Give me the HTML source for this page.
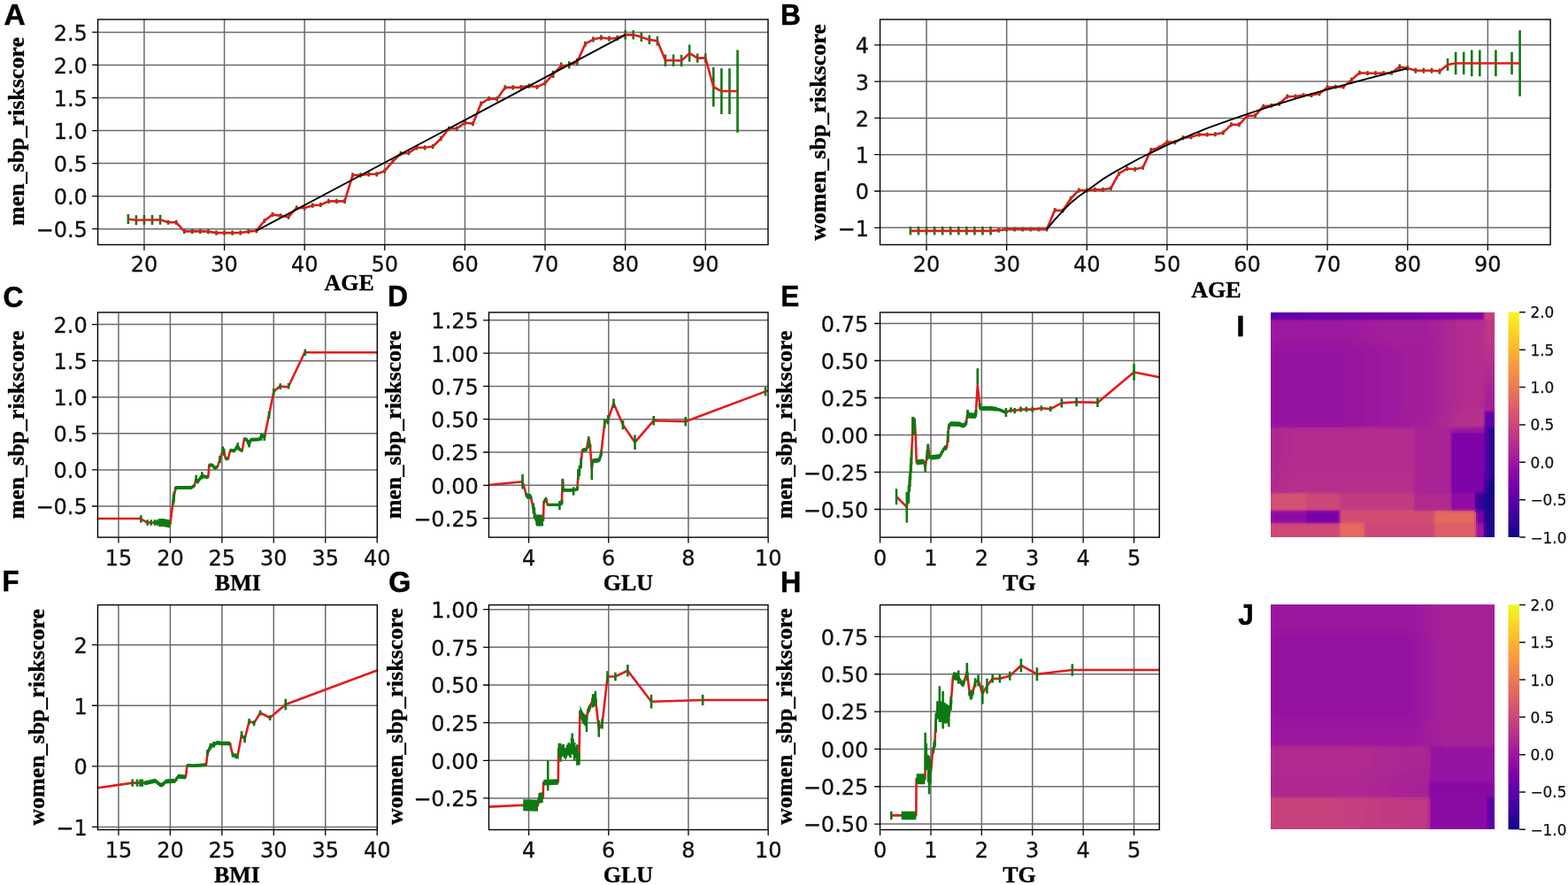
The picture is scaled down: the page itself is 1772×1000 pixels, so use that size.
<!DOCTYPE html>
<html lang="en">
<head>
<meta charset="utf-8">
<title>Risk score dependence plots</title>
<style>
html,body{margin:0;padding:0;background:#fff}
body{width:1772px;height:1000px;overflow:hidden}
svg{display:block}
.t text{font-family:"DejaVu Sans","Liberation Sans",sans-serif;font-size:24.0px;fill:#111;stroke:#111;stroke-width:0.3px}
.c text{font-family:"DejaVu Sans","Liberation Sans",sans-serif;font-size:16.9px;fill:#111;stroke:#111;stroke-width:0.25px}
.ax{font-family:"Liberation Serif","DejaVu Serif",serif;font-weight:bold;font-size:25.2px;fill:#000;stroke:#000;stroke-width:0.3px}
.pl{font-family:"Liberation Sans","DejaVu Sans",sans-serif;font-weight:bold;font-size:33.5px;fill:#000;stroke:#000;stroke-width:0.5px}
</style>
</head>
<body>
<svg width="1772" height="1000" viewBox="0 0 1772 1000">
<defs><linearGradient id="plasma" x1="0" y1="1" x2="0" y2="0"><stop offset="0" stop-color="#0d0887"/><stop offset="0.04167" stop-color="#260591"/><stop offset="0.08333" stop-color="#3a049a"/><stop offset="0.125" stop-color="#4c02a1"/><stop offset="0.1667" stop-color="#5c01a6"/><stop offset="0.2083" stop-color="#6e00a8"/><stop offset="0.25" stop-color="#7e03a8"/><stop offset="0.2917" stop-color="#8d0ba5"/><stop offset="0.3333" stop-color="#9c179e"/><stop offset="0.375" stop-color="#aa2395"/><stop offset="0.4167" stop-color="#b52f8c"/><stop offset="0.4583" stop-color="#c13b82"/><stop offset="0.5" stop-color="#cc4778"/><stop offset="0.5417" stop-color="#d5536f"/><stop offset="0.5833" stop-color="#de5f65"/><stop offset="0.625" stop-color="#e66c5c"/><stop offset="0.6667" stop-color="#ed7953"/><stop offset="0.7083" stop-color="#f3874a"/><stop offset="0.75" stop-color="#f89540"/><stop offset="0.7917" stop-color="#fca338"/><stop offset="0.8333" stop-color="#fdb42f"/><stop offset="0.875" stop-color="#fdc527"/><stop offset="0.9167" stop-color="#fbd524"/><stop offset="0.9583" stop-color="#f6e826"/><stop offset="1" stop-color="#f0f921"/></linearGradient></defs>
<rect width="1772" height="1000" fill="#fff"/>
<g>
<path d="M162.95 22V276.5M253.57 22V276.5M344.18 22V276.5M434.8 22V276.5M525.41 22V276.5M616.03 22V276.5M706.65 22V276.5M797.26 22V276.5M110.6 258.68H868M110.6 221.63H868M110.6 184.58H868M110.6 147.53H868M110.6 110.48H868M110.6 73.43H868M110.6 36.38H868" stroke="#6c6c6c" stroke-width="1.5" fill="none"/>
<path d="M162.95 276.5v6.4M253.57 276.5v6.4M344.18 276.5v6.4M434.8 276.5v6.4M525.41 276.5v6.4M616.03 276.5v6.4M706.65 276.5v6.4M797.26 276.5v6.4M110.6 258.68h-6.4M110.6 221.63h-6.4M110.6 184.58h-6.4M110.6 147.53h-6.4M110.6 110.48h-6.4M110.6 73.43h-6.4M110.6 36.38h-6.4" stroke="#000" stroke-width="1.3" fill="none"/>
<clipPath id="cA"><rect x="110.6" y="22" width="757.4" height="254.5"/></clipPath>
<g clip-path="url(#cA)" fill="none" stroke-linejoin="round">
<path d="M144.83 242.01V253.12M153.89 243.19V254.31M162.95 242.9V254.01M172.01 242.9V254.01M181.07 242.75V253.86M190.13 248.68V253.86M199.2 248.68V253.86M208.26 258.83V264.02M217.32 258.83V264.02M226.38 258.83V264.02M235.44 259.05V264.24M244.5 260.53V265.72M253.57 260.53V265.72M262.63 260.53V265.72M271.69 260.38V265.57M280.75 259.05V264.24M289.81 258.09V263.27M298.87 246.9V252.09M307.94 239.78V244.97M317 241.27V246.45M326.06 242.45V247.64M335.12 232.37V237.56M344.18 232.37V237.56M353.24 229.56V234.75M362.31 228.89V234.08M371.37 224.82V230M380.43 224.82V230M389.49 224.82V230M398.55 195.32V200.51M407.61 195.32V200.51M416.67 194.21V199.4M425.74 194.21V199.4M434.8 190.51V195.69M443.86 179.76V184.95M452.92 171.09V176.28M461.98 170.13V175.32M471.04 164.2V169.39M480.11 164.2V169.39M489.17 162.94V168.13M498.23 154.12V159.31M507.29 142.71V147.9M516.35 142.71V147.9M525.41 136.04V141.23M534.48 137.16V142.34M543.54 114.56V119.74M552.6 108.92V114.11M561.66 109.37V114.56M570.72 96.33V101.51M579.78 96.33V101.51M588.85 96.03V101.22M597.91 94.55V99.74M606.97 95.66V100.85M616.03 91.21V96.4M625.09 79.73V87.88M634.15 70.39V78.54M643.21 69.35V77.51M652.28 66.02V74.17M661.34 46.75V52.68M670.4 41.57V47.5M679.46 39.57V45.49M688.52 40.83V46.75M697.58 40.09V46.01M706.65 34.16V44.53M715.71 34.16V44.53M724.77 36.68V47.05M733.83 39.71V50.09M742.89 41.05V51.42M751.95 61.57V74.91M761.02 61.57V74.91M770.08 61.94V75.28M779.14 50.46V69.72M788.2 60.46V70.84M797.26 60.46V70.84M806.32 76.02V120.48M815.39 77.13V129M824.45 77.13V129M833.51 56.39V149.75" stroke="#0b7a12" stroke-width="2.6"/>
<polyline points="144.83,247.56 153.89,248.75 162.95,248.45 172.01,248.45 181.07,248.31 190.13,251.27 199.2,251.27 208.26,261.42 217.32,261.42 226.38,261.42 235.44,261.64 244.5,263.13 253.57,263.13 262.63,263.13 271.69,262.98 280.75,261.64 289.81,260.68 298.87,249.49 307.94,242.38 317,243.86 326.06,245.05 335.12,234.97 344.18,234.97 353.24,232.15 362.31,231.49 371.37,227.41 380.43,227.41 389.49,227.41 398.55,197.92 407.61,197.92 416.67,196.81 425.74,196.81 434.8,193.1 443.86,182.36 452.92,173.69 461.98,172.72 471.04,166.8 480.11,166.8 489.17,165.54 498.23,156.72 507.29,145.31 516.35,145.31 525.41,138.64 534.48,139.75 543.54,117.15 552.6,111.52 561.66,111.96 570.72,98.92 579.78,98.92 588.85,98.62 597.91,97.14 606.97,98.25 616.03,93.81 625.09,83.8 634.15,74.47 643.21,73.43 652.28,70.1 661.34,49.72 670.4,44.53 679.46,42.53 688.52,43.79 697.58,43.05 706.65,39.34 715.71,39.34 724.77,41.86 733.83,44.9 742.89,46.24 751.95,68.24 761.02,68.24 770.08,68.61 779.14,60.09 788.2,65.65 797.26,65.65 806.32,98.25 815.39,103.07 824.45,103.07 833.51,103.07" stroke="#e31a1c" stroke-width="2.6"/>
<polyline points="289.81,260.68 706.65,39.34" stroke="#000" stroke-width="1.9"/>
</g>
<rect x="110.6" y="22" width="757.4" height="254.5" fill="none" stroke="#000" stroke-width="1.4"/>
<g class="t">
<text x="162.95" y="306.9" text-anchor="middle">20</text>
<text x="253.57" y="306.9" text-anchor="middle">30</text>
<text x="344.18" y="306.9" text-anchor="middle">40</text>
<text x="434.8" y="306.9" text-anchor="middle">50</text>
<text x="525.41" y="306.9" text-anchor="middle">60</text>
<text x="616.03" y="306.9" text-anchor="middle">70</text>
<text x="706.65" y="306.9" text-anchor="middle">80</text>
<text x="797.26" y="306.9" text-anchor="middle">90</text>
<text x="98.9" y="268.08" text-anchor="end">−0.5</text>
<text x="98.9" y="231.03" text-anchor="end">0.0</text>
<text x="98.9" y="193.98" text-anchor="end">0.5</text>
<text x="98.9" y="156.93" text-anchor="end">1.0</text>
<text x="98.9" y="119.88" text-anchor="end">1.5</text>
<text x="98.9" y="82.83" text-anchor="end">2.0</text>
<text x="98.9" y="45.78" text-anchor="end">2.5</text>
</g>
</g>
<g>
<path d="M1047.04 22V276.5M1137.66 22V276.5M1228.27 22V276.5M1318.89 22V276.5M1409.5 22V276.5M1500.12 22V276.5M1590.74 22V276.5M1681.35 22V276.5M994.55 257.28H1752.1M994.55 215.99H1752.1M994.55 174.7H1752.1M994.55 133.41H1752.1M994.55 92.12H1752.1M994.55 50.83H1752.1" stroke="#6c6c6c" stroke-width="1.5" fill="none"/>
<path d="M1047.04 276.5v6.4M1137.66 276.5v6.4M1228.27 276.5v6.4M1318.89 276.5v6.4M1409.5 276.5v6.4M1500.12 276.5v6.4M1590.74 276.5v6.4M1681.35 276.5v6.4M994.55 257.28h-6.4M994.55 215.99h-6.4M994.55 174.7h-6.4M994.55 133.41h-6.4M994.55 92.12h-6.4M994.55 50.83h-6.4" stroke="#000" stroke-width="1.3" fill="none"/>
<clipPath id="cB"><rect x="994.55" y="22" width="757.55" height="254.5"/></clipPath>
<g clip-path="url(#cB)" fill="none" stroke-linejoin="round">
<path d="M1028.92 256.08V265.58M1037.98 256.08V265.58M1047.04 256.08V265.58M1056.1 256.08V265.58M1065.16 256.08V265.58M1074.22 256.08V265.58M1083.29 256.08V265.58M1092.35 256.08V265.58M1101.41 256.08V265.58M1110.47 256.08V265.58M1119.53 256.08V265.58M1128.59 257.69V262.65M1137.66 256.66V261.62M1146.72 256.66V261.62M1155.78 256.66V261.62M1164.84 256.66V261.62M1173.9 256.66V261.62M1182.96 256.66V261.62M1192.03 234.98V239.94M1201.09 235.6V240.56M1210.15 221.77V226.73M1219.21 212.48V217.44M1228.27 212.48V217.44M1237.33 211.86V216.82M1246.4 211.86V216.82M1255.46 210.21V215.16M1264.52 193.69V198.65M1273.58 188.04V192.99M1282.64 188.74V193.69M1291.7 186.67V191.63M1300.76 166.98V171.93M1309.83 164.38V169.33M1318.89 158.18V163.14M1327.95 158.18V163.14M1337.01 153.35V158.31M1346.07 152.4V157.36M1355.13 149.64V154.59M1364.2 149.64V154.59M1373.26 149.31V154.26M1382.32 147.45V152.4M1391.38 138.36V143.32M1400.44 138.36V143.32M1409.5 128.46V133.41M1418.57 128.04V133M1427.63 117.72V122.67M1436.69 116.89V121.85M1445.75 114.83V119.78M1454.81 106.57V111.53M1463.87 106.57V111.53M1472.94 105.13V110.08M1482 105.13V110.08M1491.06 103.27V108.22M1500.12 96.25V101.2M1509.18 95.63V100.58M1518.24 95.63V100.58M1527.3 87.78V92.74M1536.37 79.73V84.69M1545.43 80.31V85.27M1554.49 80.31V85.27M1563.55 80.31V85.27M1572.61 79.73V84.69M1581.67 72.51V78.7M1590.74 73.91V80.1M1599.8 76.64V82.83M1608.86 76.64V82.83M1617.92 76.64V82.83M1626.98 77.46V83.66M1636.04 65.9V79.94M1645.11 58.68V84.27M1654.17 58.68V84.27M1663.23 56.61V86.34M1672.29 56.61V86.34M1690.41 56.61V86.34M1708.54 58.68V84.27M1717.6 34.31V108.64" stroke="#0b7a12" stroke-width="2.6"/>
<polyline points="1028.92,260.83 1037.98,260.83 1047.04,260.83 1056.1,260.83 1065.16,260.83 1074.22,260.83 1083.29,260.83 1092.35,260.83 1101.41,260.83 1110.47,260.83 1119.53,260.83 1128.59,260.17 1137.66,259.14 1146.72,259.14 1155.78,259.14 1164.84,259.14 1173.9,259.14 1182.96,259.14 1192.03,237.46 1201.09,238.08 1210.15,224.25 1219.21,214.96 1228.27,214.96 1237.33,214.34 1246.4,214.34 1255.46,212.69 1264.52,196.17 1273.58,190.51 1282.64,191.22 1291.7,189.15 1300.76,169.46 1309.83,166.85 1318.89,160.66 1327.95,160.66 1337.01,155.83 1346.07,154.88 1355.13,152.11 1364.2,152.11 1373.26,151.78 1382.32,149.93 1391.38,140.84 1400.44,140.84 1409.5,130.93 1418.57,130.52 1427.63,120.2 1436.69,119.37 1445.75,117.31 1454.81,109.05 1463.87,109.05 1472.94,107.6 1482,107.6 1491.06,105.75 1500.12,98.73 1509.18,98.11 1518.24,98.11 1527.3,90.26 1536.37,82.21 1545.43,82.79 1554.49,82.79 1563.55,82.79 1572.61,82.21 1581.67,75.6 1590.74,77.01 1599.8,79.73 1608.86,79.73 1617.92,79.73 1626.98,80.56 1636.04,72.92 1645.11,71.48 1654.17,71.48 1663.23,71.48 1672.29,71.48 1690.41,71.48 1708.54,71.48 1717.6,71.48" stroke="#e31a1c" stroke-width="2.6"/>
<polyline points="1182.96,259.14 1192.03,248.2 1201.09,238.29 1210.15,229.2 1219.21,221.77 1228.27,215.58 1237.33,208.97 1246.4,202.36 1259.99,194.11 1273.58,186.67 1287.17,179.24 1300.76,172.64 1318.89,163.96 1332.48,158.18 1346.07,152.4 1364.2,144.97 1391.38,135.06 1409.5,128.87 1436.69,119.78 1454.81,114.42 1482,106.16 1500.12,101.2 1527.3,93.77 1545.43,88.82 1572.61,81.8 1590.74,77.26" stroke="#000" stroke-width="1.9"/>
</g>
<rect x="994.55" y="22" width="757.55" height="254.5" fill="none" stroke="#000" stroke-width="1.4"/>
<g class="t">
<text x="1047.04" y="306.9" text-anchor="middle">20</text>
<text x="1137.66" y="306.9" text-anchor="middle">30</text>
<text x="1228.27" y="306.9" text-anchor="middle">40</text>
<text x="1318.89" y="306.9" text-anchor="middle">50</text>
<text x="1409.5" y="306.9" text-anchor="middle">60</text>
<text x="1500.12" y="306.9" text-anchor="middle">70</text>
<text x="1590.74" y="306.9" text-anchor="middle">80</text>
<text x="1681.35" y="306.9" text-anchor="middle">90</text>
<text x="982" y="266.68" text-anchor="end">−1</text>
<text x="982" y="225.39" text-anchor="end">0</text>
<text x="982" y="184.1" text-anchor="end">1</text>
<text x="982" y="142.81" text-anchor="end">2</text>
<text x="982" y="101.52" text-anchor="end">3</text>
<text x="982" y="60.23" text-anchor="end">4</text>
</g>
</g>
<g>
<path d="M133.95 353V607.15M192.4 353V607.15M250.85 353V607.15M309.3 353V607.15M367.75 353V607.15M110.45 571.98H426.3M110.45 530.9H426.3M110.45 489.82H426.3M110.45 448.75H426.3M110.45 407.67H426.3M110.45 366.6H426.3" stroke="#6c6c6c" stroke-width="1.5" fill="none"/>
<path d="M133.95 607.15v6.4M192.4 607.15v6.4M250.85 607.15v6.4M309.3 607.15v6.4M367.75 607.15v6.4M426.2 607.15v6.4M110.45 571.98h-6.4M110.45 530.9h-6.4M110.45 489.82h-6.4M110.45 448.75h-6.4M110.45 407.67h-6.4M110.45 366.6h-6.4" stroke="#000" stroke-width="1.3" fill="none"/>
<clipPath id="cC"><rect x="110.45" y="353" width="315.85" height="254.15"/></clipPath>
<g clip-path="url(#cC)" fill="none" stroke-linejoin="round">
<polyline points="110.57,586.02 158.73,586.02 166.68,590.54 184.22,590.54 192.4,591.94 195.79,565.4 198.6,551.03 216.25,551.03 219.87,548.56 221.62,540.76 223.26,544.87 228.29,537.47 231.68,538.7 235.3,539.12 236.35,525.56 240.1,525.56 242.67,528.93 245.71,527.61 248.51,519.15 251.79,508.72 253.19,510.77 254.94,518.33 257.86,518.33 260.2,508.72 264.88,509.54 268.38,503.79 270.37,507.41 273.65,509.38 275.98,495.9 278.91,496.81 281.24,502.15 283.58,496.81 292.93,496.4 296.09,492.54 298.78,493.93 303.45,471.75 309.3,442.75 312.81,439.38 316.31,436.59 325.67,437.25 344.37,398.23 426.2,398.23" stroke="#e31a1c" stroke-width="2.6"/>
<path d="M159.32 582.25V590.46M166.68 587.25V593.83M170.77 587.25V593.83M174.87 587.25V593.83M177.79 587.25V593.83M195.91 559.05V570.55M196.61 555.46V566.96M221.62 536.65V544.87M228.29 533.36V541.58M248.51 515.05V523.26M251.79 504.61V512.83M253.19 506.67V514.88M268.74 500.32V508.54M281.59 497.24V505.45M295.27 489.43V497.64M298.78 489.82V498.04M304.04 464.74V472.96M309.3 438.65V446.86M316.78 433.34V439.91M326.13 432.99V439.56M344.84 394.53V401.92" stroke="#0b7a12" stroke-width="2.6"/>
<path d="M179.19 590.54L184.22 590.54L192.4 591.94M198.13 553.42L198.6 551.03L216.25 551.03L219.87 548.56M221.62 540.76L223.26 544.87L228.29 537.47L231.68 538.7L235.3 539.12M236.35 525.56L240.1 525.56L242.67 528.93L245.71 527.61M251.79 508.72L253.19 510.77M254.94 518.33L257.86 518.33M260.2 508.72L264.88 509.54L268.38 503.79L270.37 507.41L273.65 509.38M275.98 495.9L278.91 496.81L281.24 502.15L283.58 496.81L292.93 496.4L296.09 492.54L298.78 493.93L299.36 491.16" stroke="#0b7a12" stroke-width="3.2" stroke-linecap="butt"/>
<path d="M179.19 586.04L184.22 586.04L192.4 587.44L192.4 596.44L184.22 595.04L179.19 595.04ZM198.13 551.42L198.6 549.03L216.25 549.03L219.87 546.56L219.87 550.56L216.25 553.03L198.6 553.03L198.13 555.42ZM221.62 538.76L223.26 542.87L228.29 535.47L231.68 536.7L235.3 537.12L235.3 541.12L231.68 540.7L228.29 539.47L223.26 546.87L221.62 542.76ZM236.35 523.56L240.1 523.56L242.67 526.93L245.71 525.61L245.71 529.61L242.67 530.93L240.1 527.56L236.35 527.56ZM251.79 506.72L253.19 508.77L253.19 512.77L251.79 510.72ZM254.94 516.33L257.86 516.33L257.86 520.33L254.94 520.33ZM260.2 506.72L264.88 507.54L268.38 501.79L270.37 505.41L273.65 507.38L273.65 511.38L270.37 509.41L268.38 505.79L264.88 511.54L260.2 510.72ZM275.98 493.9L278.91 494.81L281.24 500.15L283.58 494.81L292.93 494.4L296.09 490.54L298.78 491.93L299.36 489.16L299.36 493.16L298.78 495.93L296.09 494.54L292.93 498.4L283.58 498.81L281.24 504.15L278.91 498.81L275.98 497.9Z" fill="#0b7a12" stroke="none"/>
</g>
<rect x="110.45" y="353" width="315.85" height="254.15" fill="none" stroke="#000" stroke-width="1.4"/>
<g class="t">
<text x="133.95" y="638.7" text-anchor="middle">15</text>
<text x="192.4" y="638.7" text-anchor="middle">20</text>
<text x="250.85" y="638.7" text-anchor="middle">25</text>
<text x="309.3" y="638.7" text-anchor="middle">30</text>
<text x="367.75" y="638.7" text-anchor="middle">35</text>
<text x="426.2" y="638.7" text-anchor="middle">40</text>
<text x="98.7" y="581.38" text-anchor="end">−0.5</text>
<text x="98.7" y="540.3" text-anchor="end">0.0</text>
<text x="98.7" y="499.22" text-anchor="end">0.5</text>
<text x="98.7" y="458.15" text-anchor="end">1.0</text>
<text x="98.7" y="417.07" text-anchor="end">1.5</text>
<text x="98.7" y="376" text-anchor="end">2.0</text>
</g>
</g>
<g>
<path d="M597.55 353V607.15M687.75 353V607.15M777.95 353V607.15M552.45 585.6H868M552.45 548.3H868M552.45 511H868M552.45 473.7H868M552.45 436.4H868M552.45 399.1H868M552.45 361.8H868" stroke="#6c6c6c" stroke-width="1.5" fill="none"/>
<path d="M597.55 607.15v6.4M687.75 607.15v6.4M777.95 607.15v6.4M868.15 607.15v6.4M552.45 585.6h-6.4M552.45 548.3h-6.4M552.45 511h-6.4M552.45 473.7h-6.4M552.45 436.4h-6.4M552.45 399.1h-6.4M552.45 361.8h-6.4" stroke="#000" stroke-width="1.3" fill="none"/>
<clipPath id="cD"><rect x="552.45" y="353" width="315.55" height="254.15"/></clipPath>
<g clip-path="url(#cD)" fill="none" stroke-linejoin="round">
<polyline points="552.45,548 590.51,544.27 594.84,559.19 595.61,560.83 599.62,560.83 602.83,574.41 605.22,585.6 606.12,587.99 614.01,587.99 614.51,567.99 617.21,563.22 618.75,570.38 632.41,570.38 634.8,569.19 635.88,542.33 636.88,553.89 648.42,553.89 652.39,552.78 653.47,535.92 654.83,531.89 656.63,523.23 657.98,508.76 662.81,508.02 665.2,495.18 666.78,502.35 668.81,529.65 669.98,520.7 677.2,519.95 679.18,513.54 683.24,478.33 687.12,474.3 693.52,455.8 703.99,480.12 717.52,499.81 738.71,475.19 774.79,476.24 864.99,442.37 868.15,441.47" stroke="#e31a1c" stroke-width="2.6"/>
<path d="M590.51 536.07V552.48M602.83 568.44V580.38M603.86 573.3V585.23M635.88 540.84V555.76M665.2 493.1V506.52M668.81 522.94V542.33M648.06 550.16V559.86M632.41 565.91V576.35M653.47 529.95V541.88M654.83 525.92V537.86M656.63 517.27V529.2M683.24 473.1V483.55M687.12 469.07V479.52M693.52 450.57V461.02M703.99 474.89V485.34M717.52 491.6V508.02M738.71 469.97V480.41M774.79 471.01V481.46M864.99 437.15V447.59" stroke="#0b7a12" stroke-width="2.6"/>
<path d="M594.39 557.64L594.84 559.19L595.61 560.83L599.62 560.83L600.26 563.51M602.06 571.16L602.83 574.41M605.22 585.6L606.12 587.99M605.22 585.6L606.12 587.99L614.01 587.99M614.51 567.99L614.69 567.68M614.51 567.99L617.21 563.22M618.75 570.38L632.41 570.38L634.8 569.19L634.98 564.71M636.88 553.89L648.42 553.89L652.39 552.78L652.57 549.97M653.47 535.92L654.83 531.89M657.98 508.76L662.81 508.02L662.94 507.29M666.78 502.35L667 505.38M669.71 522.76L669.98 520.7L677.2 519.95L677.38 519.37M677.38 519.37L679.18 513.54L679.63 509.62" stroke="#0b7a12" stroke-width="3.2" stroke-linecap="butt"/>
<path d="M594.39 554.64L594.84 556.19L595.61 557.83L599.62 557.83L600.26 560.51L600.26 566.51L599.62 563.83L595.61 563.83L594.84 562.19L594.39 560.64ZM605.22 579.1L606.12 581.49L614.01 581.49L614.01 594.49L606.12 594.49L605.22 592.1ZM614.51 561.49L614.69 561.18L614.69 574.18L614.51 574.49ZM614.51 565.49L617.21 560.72L617.21 565.72L614.51 570.49ZM636.88 552.19L648.42 552.19L652.39 551.08L652.57 548.27L652.57 551.67L652.39 554.48L648.42 555.6L636.88 555.6ZM657.98 506.46L662.81 505.72L662.94 504.99L662.94 509.59L662.81 510.32L657.98 511.06ZM669.71 520.26L669.98 518.2L677.2 517.45L677.38 516.87L677.38 521.87L677.2 522.45L669.98 523.2L669.71 525.26Z" fill="#0b7a12" stroke="none"/>
</g>
<rect x="552.45" y="353" width="315.55" height="254.15" fill="none" stroke="#000" stroke-width="1.4"/>
<g class="t">
<text x="597.55" y="638.7" text-anchor="middle">4</text>
<text x="687.75" y="638.7" text-anchor="middle">6</text>
<text x="777.95" y="638.7" text-anchor="middle">8</text>
<text x="868.15" y="638.7" text-anchor="middle">10</text>
<text x="540.8" y="595" text-anchor="end">−0.25</text>
<text x="540.8" y="557.7" text-anchor="end">0.00</text>
<text x="540.8" y="520.4" text-anchor="end">0.25</text>
<text x="540.8" y="483.1" text-anchor="end">0.50</text>
<text x="540.8" y="445.8" text-anchor="end">0.75</text>
<text x="540.8" y="408.5" text-anchor="end">1.00</text>
<text x="540.8" y="371.2" text-anchor="end">1.25</text>
</g>
</g>
<g>
<path d="M1051.95 353V607.15M1109.35 353V607.15M1166.75 353V607.15M1224.15 353V607.15M1281.55 353V607.15M994.55 575.5H1310.2M994.55 533.5H1310.2M994.55 491.5H1310.2M994.55 449.5H1310.2M994.55 407.5H1310.2M994.55 365.5H1310.2" stroke="#6c6c6c" stroke-width="1.5" fill="none"/>
<path d="M994.55 607.15v6.4M1051.95 607.15v6.4M1109.35 607.15v6.4M1166.75 607.15v6.4M1224.15 607.15v6.4M1281.55 607.15v6.4M994.55 575.5h-6.4M994.55 533.5h-6.4M994.55 491.5h-6.4M994.55 449.5h-6.4M994.55 407.5h-6.4M994.55 365.5h-6.4" stroke="#000" stroke-width="1.3" fill="none"/>
<clipPath id="cE"><rect x="994.55" y="353" width="315.65" height="254.15"/></clipPath>
<g clip-path="url(#cE)" fill="none" stroke-linejoin="round">
<polyline points="1013.03,561.22 1024.8,572.81 1026.92,556.01 1027.84,546.94 1029.45,526.78 1031.11,493.01 1031.57,472.01 1033.58,474.03 1034.73,491.5 1035.76,522.41 1044.14,521.4 1045.64,528.46 1047.36,516.03 1048.79,503.26 1050.46,516.03 1052.52,517.04 1062.05,515.69 1065.15,509.81 1067.73,505.95 1070.03,505.95 1071.47,488.81 1072.61,480.41 1074.68,478.9 1084.09,479.32 1088.34,481 1091.56,479.32 1093.57,465.63 1095.69,469.49 1102.63,469.83 1104.76,435.22 1107.63,461.43 1120.08,461.43 1128.29,462.6 1136.9,465.96 1142.41,463.28 1146.66,464.12 1153.55,462.44 1166.75,462.6 1176.85,461.26 1187.18,462.1 1199.81,455.38 1216.57,454.2 1240.39,454.88 1281.55,420.44 1310.25,426.32" stroke="#e31a1c" stroke-width="2.6"/>
<path d="M1013.03 552.15V570.29M1024.8 556.01V590.62M1026.92 548.62V568.78M1027.84 538.54V555.34M1028.99 525.1V541.9M1030.14 508.3V525.1M1031.57 471.34V491.5M1032.43 472.18V491.5M1033.58 473.86V491.5M1045.64 521.74V533.5M1048.79 501.58V518.38M1047.93 508.3V520.06M1104.76 416.24V434.38M1093.57 462.94V473.02M1071.47 486.46V499.9M1136.9 460.92V471M1142.41 460.25V466.3M1146.66 461.09V467.14M1153.55 459.41V465.46M1159.86 459.49V465.54M1166.75 459.58V465.63M1176.85 458.24V464.28M1187.18 459.08V465.12M1199.81 450.34V460.42M1216.57 449.16V459.24M1240.39 449.84V459.92M1281.55 411.2V429.68M1031.97 471.34V491.5M1032.89 472.18V491.5M1028.42 533.5V550.3M1029.56 516.7V533.5" stroke="#0b7a12" stroke-width="2.6"/>
<path d="M1035.76 522.41L1044.14 521.4M1050.46 516.03L1051.95 516.76M1051.95 516.76L1052.52 517.04L1062.05 515.69L1062.86 514.17M1062.86 514.17L1065.15 509.81L1067.73 505.95L1070.03 505.95M1072.04 484.61L1072.61 480.41L1074.68 478.9L1084.09 479.32L1088.34 481L1091.56 479.32L1092.13 475.41M1093.57 465.63L1095.69 469.49L1102.63 469.83L1103.04 463.28M1107.05 456.19L1107.63 461.43L1120.08 461.43L1126.57 462.36M1126.57 462.36L1128.29 462.6L1136.9 465.96L1138.05 465.4" stroke="#0b7a12" stroke-width="3.2" stroke-linecap="butt"/>
<path d="M1035.76 519.41L1044.14 518.4L1044.14 524.4L1035.76 525.41ZM1050.46 513.78L1051.95 514.51L1051.95 519.01L1050.46 518.28ZM1051.95 514.01L1052.52 514.29L1062.05 512.94L1062.86 511.42L1062.86 516.92L1062.05 518.44L1052.52 519.79L1051.95 519.51ZM1062.86 511.27L1065.15 506.91L1067.73 503.05L1070.03 503.05L1070.03 508.85L1067.73 508.85L1065.15 512.71L1062.86 517.07ZM1072.04 481.86L1072.61 477.66L1074.68 476.15L1084.09 476.57L1088.34 478.25L1091.56 476.57L1092.13 472.66L1092.13 478.16L1091.56 482.07L1088.34 483.75L1084.09 482.07L1074.68 481.65L1072.61 483.16L1072.04 487.36ZM1093.57 462.38L1095.69 466.24L1102.63 466.58L1103.04 460.03L1103.04 466.53L1102.63 473.08L1095.69 472.74L1093.57 468.88ZM1107.05 453.69L1107.63 458.93L1120.08 458.93L1126.57 459.86L1126.57 464.86L1120.08 463.93L1107.63 463.93L1107.05 458.69ZM1126.57 460.56L1128.29 460.8L1136.9 464.16L1138.05 463.6L1138.05 467.2L1136.9 467.76L1128.29 464.4L1126.57 464.16Z" fill="#0b7a12" stroke="none"/>
</g>
<rect x="994.55" y="353" width="315.65" height="254.15" fill="none" stroke="#000" stroke-width="1.4"/>
<g class="t">
<text x="994.55" y="638.7" text-anchor="middle">0</text>
<text x="1051.95" y="638.7" text-anchor="middle">1</text>
<text x="1109.35" y="638.7" text-anchor="middle">2</text>
<text x="1166.75" y="638.7" text-anchor="middle">3</text>
<text x="1224.15" y="638.7" text-anchor="middle">4</text>
<text x="1281.55" y="638.7" text-anchor="middle">5</text>
<text x="981.3" y="584.9" text-anchor="end">−0.50</text>
<text x="981.3" y="542.9" text-anchor="end">−0.25</text>
<text x="981.3" y="500.9" text-anchor="end">0.00</text>
<text x="981.3" y="458.9" text-anchor="end">0.25</text>
<text x="981.3" y="416.9" text-anchor="end">0.50</text>
<text x="981.3" y="374.9" text-anchor="end">0.75</text>
</g>
</g>
<g>
<path d="M133.95 683.55V937.55M192.4 683.55V937.55M250.85 683.55V937.55M309.3 683.55V937.55M367.75 683.55V937.55M110.45 934.45H426.3M110.45 865.85H426.3M110.45 797.25H426.3M110.45 728.65H426.3" stroke="#6c6c6c" stroke-width="1.5" fill="none"/>
<path d="M133.95 937.55v6.4M192.4 937.55v6.4M250.85 937.55v6.4M309.3 937.55v6.4M367.75 937.55v6.4M426.2 937.55v6.4M110.45 934.45h-6.4M110.45 865.85h-6.4M110.45 797.25h-6.4M110.45 728.65h-6.4" stroke="#000" stroke-width="1.3" fill="none"/>
<clipPath id="cF"><rect x="110.45" y="683.55" width="315.85" height="254"/></clipPath>
<g clip-path="url(#cF)" fill="none" stroke-linejoin="round">
<polyline points="110.57,890.27 149.73,884.65 164.34,884.65 175.57,882.31 181.18,887.12 183.98,886.43 187.37,883 198.01,882.31 201.4,877.37 209.94,877.92 211.45,864.75 217.65,865.3 233.08,864.13 234.48,850.76 237.99,843.21 241.5,841.43 245.71,839.1 249.68,840.06 259.73,840.06 263.01,852.95 268.38,854.87 273.06,830.18 276.57,835.25 281.59,815.09 287.09,817.14 294.1,805.48 305.09,810.97 322.74,796.02 426.2,757.46" stroke="#e31a1c" stroke-width="2.6"/>
<path d="M149.73 880.53V888.76M154.99 880.53V888.76M158.5 880.53V888.76M160.84 880.53V888.76M263.01 850.21V855.7M266.05 851.29V856.78M268.38 852.13V857.62M273.06 826.06V834.29M276.57 831.14V839.37M281.59 812V818.17M287.09 814.06V820.23M294.1 802.39V808.57M305.09 807.88V814.06M234.48 847.33V854.19M237.99 839.78V846.64M241.5 838V844.86M322.74 789.84V802.19" stroke="#0b7a12" stroke-width="2.6"/>
<path d="M163.18 884.65L164.34 884.65L175.57 882.31L181.18 887.12L183.98 886.43L187.37 883L198.01 882.31L201.4 877.37L209.94 877.92M211.45 864.75L217.65 865.3L233.08 864.13M234.48 850.76L237.99 843.21L241.5 841.43L245.71 839.1L249.68 840.06L259.73 840.06L260.2 841.9" stroke="#0b7a12" stroke-width="3.2" stroke-linecap="butt"/>
<path d="M163.18 882.15L164.34 882.15L175.57 879.81L181.18 884.62L183.98 883.93L187.37 880.5L198.01 879.81L201.4 874.87L209.94 875.42L209.94 880.42L201.4 879.87L198.01 884.81L187.37 885.5L183.98 888.93L181.18 889.62L175.57 884.81L164.34 887.15L163.18 887.15ZM211.45 862.95L217.65 863.5L233.08 862.34L233.08 865.93L217.65 867.1L211.45 866.55ZM234.48 848.46L237.99 840.91L241.5 839.13L245.71 836.8L249.68 837.76L259.73 837.76L260.2 839.6L260.2 844.2L259.73 842.36L249.68 842.36L245.71 841.4L241.5 843.73L237.99 845.51L234.48 853.06Z" fill="#0b7a12" stroke="none"/>
</g>
<rect x="110.45" y="683.55" width="315.85" height="254" fill="none" stroke="#000" stroke-width="1.4"/>
<g class="t">
<text x="133.95" y="968.7" text-anchor="middle">15</text>
<text x="192.4" y="968.7" text-anchor="middle">20</text>
<text x="250.85" y="968.7" text-anchor="middle">25</text>
<text x="309.3" y="968.7" text-anchor="middle">30</text>
<text x="367.75" y="968.7" text-anchor="middle">35</text>
<text x="426.2" y="968.7" text-anchor="middle">40</text>
<text x="98.7" y="943.85" text-anchor="end">−1</text>
<text x="98.7" y="875.25" text-anchor="end">0</text>
<text x="98.7" y="806.65" text-anchor="end">1</text>
<text x="98.7" y="738.05" text-anchor="end">2</text>
</g>
</g>
<g>
<path d="M597.55 683.55V937.55M687.75 683.55V937.55M777.95 683.55V937.55M552.45 901.95H868M552.45 859.3H868M552.45 816.65H868M552.45 774H868M552.45 731.35H868M552.45 688.7H868" stroke="#6c6c6c" stroke-width="1.5" fill="none"/>
<path d="M597.55 937.55v6.4M687.75 937.55v6.4M777.95 937.55v6.4M868.15 937.55v6.4M552.45 901.95h-6.4M552.45 859.3h-6.4M552.45 816.65h-6.4M552.45 774h-6.4M552.45 731.35h-6.4M552.45 688.7h-6.4" stroke="#000" stroke-width="1.3" fill="none"/>
<clipPath id="cG"><rect x="552.45" y="683.55" width="315.55" height="254"/></clipPath>
<g clip-path="url(#cG)" fill="none" stroke-linejoin="round">
<polyline points="552.45,911.67 591.24,909.8 607.92,910.14 608.37,901.95 613.79,901.1 614.06,884.38 630.79,883.53 631.15,846.33 633.63,850.77 636.34,847.36 639.04,852.48 642.2,845.65 644.9,849.06 646.71,838.83 648.96,849.06 651.67,850.77 654.38,859.3 655.46,803.51 658.89,811.53 662.49,814.94 664.3,803 667.23,798.74 670.16,788.33 672.87,789.35 676.75,823.47 680.53,817.84 686.62,764.45 695.42,764.45 709.4,757.79 736.01,792.77 794.19,791.06 868.15,791.06" stroke="#e31a1c" stroke-width="2.6"/>
<path d="M619.2 859.3V893.42M646.71 828.59V852.48M654.38 850.77V864.42M662.94 809.83V826.89M672.87 780.82V797.88M670.16 784.24V799.59M671.51 785.94V797.88M631.83 839.72V855.37M633.4 839.96V860.78M634.98 844.8V853.33M636.56 840.94V854.63M638.14 845.25V856.29M639.72 845.96V856.07M641.3 841.75V853.46M642.88 839.29V853.72M644.45 840.85V856.14M646.03 833.81V851.53M647.61 835.08V850.76M649.19 839.1V859.32M650.77 844.19V856.21M652.35 841.15V864.66M676.75 814.09V832.86M680.53 812.21V823.47M686.62 758.13V770.76M695.42 759.67V769.22M709.4 750.97V764.62M736.01 785.09V800.44M794.19 785.09V797.03" stroke="#0b7a12" stroke-width="2.6"/>
<path d="M591.24 909.8L607.92 910.14M608.37 901.95L613.79 901.1M614.24 884.37L630.79 883.53M631.15 846.33L633.63 850.77L636.34 847.36L639.04 852.48L642.2 845.65L644.9 849.06M648.96 849.06L651.67 850.77M655.46 803.51L658.89 811.53L662.49 814.94L662.94 811.96M664.3 803L667.23 798.74M669.71 789.93L670.16 788.33L672.87 789.35L673.32 793.32" stroke="#0b7a12" stroke-width="3.2" stroke-linecap="butt"/>
<path d="M591.24 903.3L607.92 903.64L607.92 916.64L591.24 916.3ZM608.37 895.95L613.79 895.1L613.79 907.1L608.37 907.95ZM614.24 881.12L630.79 880.28L630.79 886.78L614.24 887.62ZM631.15 839.83L633.63 844.27L636.34 840.86L639.04 845.98L642.2 839.15L644.9 842.56L644.9 855.56L642.2 852.15L639.04 858.98L636.34 853.86L633.63 857.27L631.15 852.83ZM648.96 842.56L651.67 844.27L651.67 857.27L648.96 855.56ZM655.46 797.01L658.89 805.03L662.49 808.44L662.94 805.46L662.94 818.46L662.49 821.44L658.89 818.03L655.46 810.01ZM664.3 798.5L667.23 794.24L667.23 803.24L664.3 807.5ZM669.71 785.93L670.16 784.33L672.87 785.35L673.32 789.32L673.32 797.32L672.87 793.35L670.16 792.33L669.71 793.93Z" fill="#0b7a12" stroke="none"/>
</g>
<rect x="552.45" y="683.55" width="315.55" height="254" fill="none" stroke="#000" stroke-width="1.4"/>
<g class="t">
<text x="597.55" y="968.7" text-anchor="middle">4</text>
<text x="687.75" y="968.7" text-anchor="middle">6</text>
<text x="777.95" y="968.7" text-anchor="middle">8</text>
<text x="868.15" y="968.7" text-anchor="middle">10</text>
<text x="540.8" y="911.35" text-anchor="end">−0.25</text>
<text x="540.8" y="868.7" text-anchor="end">0.00</text>
<text x="540.8" y="826.05" text-anchor="end">0.25</text>
<text x="540.8" y="783.4" text-anchor="end">0.50</text>
<text x="540.8" y="740.75" text-anchor="end">0.75</text>
<text x="540.8" y="698.1" text-anchor="end">1.00</text>
</g>
</g>
<g>
<path d="M1051.95 683.55V937.55M1109.35 683.55V937.55M1166.75 683.55V937.55M1224.15 683.55V937.55M1281.55 683.55V937.55M994.55 931.05H1310.2M994.55 888.73H1310.2M994.55 846.4H1310.2M994.55 804.07H1310.2M994.55 761.75H1310.2M994.55 719.42H1310.2" stroke="#6c6c6c" stroke-width="1.5" fill="none"/>
<path d="M994.55 937.55v6.4M1051.95 937.55v6.4M1109.35 937.55v6.4M1166.75 937.55v6.4M1224.15 937.55v6.4M1281.55 937.55v6.4M994.55 931.05h-6.4M994.55 888.73h-6.4M994.55 846.4h-6.4M994.55 804.07h-6.4M994.55 761.75h-6.4M994.55 719.42h-6.4" stroke="#000" stroke-width="1.3" fill="none"/>
<clipPath id="cH"><rect x="994.55" y="683.55" width="315.65" height="254"/></clipPath>
<g clip-path="url(#cH)" fill="none" stroke-linejoin="round">
<polyline points="1007.29,921.4 1035.3,921.4 1035.59,880.26 1045.35,880.26 1046.21,849.79 1048.51,857.74 1050.06,876.87 1052.35,869.26 1054.25,846.4 1056.25,843.01 1057.46,815.93 1059.41,800.69 1061.82,795.61 1063.72,802.72 1065.61,800.69 1068.48,806.61 1070.78,804.58 1072.27,808.48 1074.57,795.61 1077.03,763.78 1082.72,764.8 1085.59,770.55 1088.46,773.6 1092.82,759.04 1096.03,785.45 1098.9,784.77 1102.12,770.55 1105.56,768.52 1110.33,783.76 1115.43,775.29 1121.69,766.83 1129.9,766.83 1141.26,763.78 1153.89,751.93 1171.92,761.75 1211.81,757.01 1310.25,757.01" stroke="#e31a1c" stroke-width="2.6"/>
<path d="M1007.29 916.66V926.14M1045.64 827.78V870.1M1046.78 839.63V870.1M1050.06 854.87V897.19M1049.08 853.17V883.65M1051.38 858.25V885.34M1057.69 805.77V827.78M1059.41 792.22V812.54M1061.82 775.29V815.93M1065.61 780.88V823.54M1063.43 792.22V815.93M1067.45 793.92V817.62M1069.74 795.61V817.62M1072.27 796.63V821.17M1074.57 787.14V802.38M1083.23 757.52V772.75M1092.82 748.88V769.2M1102.12 766.32V776.48M1105.56 762.6V775.29M1110.33 774.45V795.61M1115.43 766.83V783.76M1121.69 762.09V771.57M1129.9 762.09V771.57M1141.26 758.7V768.86M1153.89 744.31V759.55M1171.92 754.13V769.37M1211.81 750.24V763.78" stroke="#0b7a12" stroke-width="2.6"/>
<path d="M1018.66 921.4L1035.3 921.4M1035.59 880.26L1045.35 880.26M1050.06 876.87L1051.95 870.59M1054.25 846.4L1056.25 843.01L1056.54 836.56M1059.41 800.69L1061.82 795.61M1063.72 802.72L1065.61 800.69L1068.48 806.61L1070.78 804.58L1072.27 808.48M1074.57 795.61L1074.91 791.17M1077.03 763.78L1082.37 764.74M1082.37 764.74L1082.72 764.8L1085.59 770.55L1088.46 773.6L1089.83 769M1095.57 781.68L1096.03 785.45L1098.9 784.77L1099.59 781.73M1092.82 759.04L1093.28 762.81" stroke="#0b7a12" stroke-width="3.2" stroke-linecap="butt"/>
<path d="M1018.66 916.65L1035.3 916.65L1035.3 926.15L1018.66 926.15ZM1035.59 874.26L1045.35 874.26L1045.35 886.26L1035.59 886.26ZM1050.06 874.87L1051.95 868.59L1051.95 872.59L1050.06 878.87ZM1054.25 839.4L1056.25 836.01L1056.54 829.56L1056.54 843.56L1056.25 850.01L1054.25 853.4ZM1059.41 797.19L1061.82 792.11L1061.82 799.11L1059.41 804.19ZM1063.72 799.22L1065.61 797.19L1068.48 803.11L1070.78 801.08L1072.27 804.98L1072.27 811.98L1070.78 808.08L1068.48 810.11L1065.61 804.19L1063.72 806.22ZM1074.57 792.11L1074.91 787.67L1074.91 794.67L1074.57 799.11ZM1077.03 759.28L1082.37 760.24L1082.37 769.24L1077.03 768.28ZM1082.37 761.24L1082.72 761.3L1085.59 767.05L1088.46 770.1L1089.83 765.5L1089.83 772.5L1088.46 777.1L1085.59 774.05L1082.72 768.3L1082.37 768.24ZM1095.57 776.18L1096.03 779.95L1098.9 779.27L1099.59 776.23L1099.59 787.23L1098.9 790.27L1096.03 790.95L1095.57 787.18Z" fill="#0b7a12" stroke="none"/>
</g>
<rect x="994.55" y="683.55" width="315.65" height="254" fill="none" stroke="#000" stroke-width="1.4"/>
<g class="t">
<text x="994.55" y="968.7" text-anchor="middle">0</text>
<text x="1051.95" y="968.7" text-anchor="middle">1</text>
<text x="1109.35" y="968.7" text-anchor="middle">2</text>
<text x="1166.75" y="968.7" text-anchor="middle">3</text>
<text x="1224.15" y="968.7" text-anchor="middle">4</text>
<text x="1281.55" y="968.7" text-anchor="middle">5</text>
<text x="981.3" y="940.45" text-anchor="end">−0.50</text>
<text x="981.3" y="898.12" text-anchor="end">−0.25</text>
<text x="981.3" y="855.8" text-anchor="end">0.00</text>
<text x="981.3" y="813.47" text-anchor="end">0.25</text>
<text x="981.3" y="771.15" text-anchor="end">0.50</text>
<text x="981.3" y="728.82" text-anchor="end">0.75</text>
</g>
</g>
<g shape-rendering="crispEdges">
<rect x="1436" y="352.8" width="253.2" height="254.2" fill="#b32c8e"/>
<path fill="#5c01a6" d="M1436 352.8h10.27v4.3h-10.27zM1436 356.8h4.29v2.3h-4.29zM1681.23 480.9h2.29v2.3h-2.29zM1677.24 488.91h2.29v44.33h-2.29zM1667.27 556.96h2.29v2.3h-2.29z"/>
<path fill="#6001a6" d="M1445.97 352.8h22.23v4.3h-22.23zM1439.99 356.8h22.23v2.3h-22.23zM1679.23 480.9h2.29v2.3h-2.29zM1677.24 486.91h2.29v2.3h-2.29zM1675.24 554.96h2.29v2.3h-2.29zM1667.27 574.97h2.29v2.3h-2.29z"/>
<path fill="#6300a7" d="M1467.9 352.8h20.24v4.3h-20.24zM1461.92 356.8h20.24v2.3h-20.24zM1681.23 466.89h7.97v2.3h-7.97zM1679.23 468.89h9.97v12.31h-9.97zM1677.24 484.9h2.29v2.3h-2.29z"/>
<path fill="#6700a8" d="M1487.84 352.8h22.23v4.3h-22.23zM1481.86 356.8h22.23v2.3h-22.23zM1679.23 466.89h2.29v2.3h-2.29zM1677.24 482.9h2.29v2.3h-2.29zM1673.25 576.98h2.29v2.3h-2.29zM1675.24 578.98h2.29v10.31h-2.29z"/>
<path fill="#6a00a8" d="M1509.77 352.8h22.23v4.3h-22.23zM1503.79 356.8h22.23v2.3h-22.23zM1436 358.8h8.27v2.3h-8.27zM1671.26 576.98h2.29v2.3h-2.29z"/>
<path fill="#6e00a8" d="M1531.7 352.8h20.24v4.3h-20.24zM1525.72 356.8h20.24v2.3h-20.24zM1443.97 358.8h26.22v2.3h-26.22zM1675.24 552.96h2.29v2.3h-2.29zM1675.24 588.99h2.29v2.3h-2.29zM1673.25 554.96h2.29v2.3h-2.29zM1669.26 576.98h2.29v2.3h-2.29z"/>
<path fill="#7100a8" d="M1551.63 352.8h22.23v4.3h-22.23zM1545.65 356.8h22.23v2.3h-22.23zM1469.89 358.8h26.22v2.3h-26.22zM1681.23 464.89h7.97v2.3h-7.97zM1675.24 544.95h2.29v8.31h-2.29zM1669.26 554.96h4.29v2.3h-4.29z"/>
<path fill="#7401a8" d="M1573.57 352.8h20.24v4.3h-20.24zM1567.58 356.8h22.23v2.3h-22.23zM1495.81 358.8h26.22v2.3h-26.22zM1679.23 464.89h2.29v2.3h-2.29zM1677.24 480.9h2.29v2.3h-2.29zM1675.24 492.91h2.29v52.34h-2.29zM1667.27 554.96h2.29v2.3h-2.29zM1673.25 578.98h2.29v2.3h-2.29z"/>
<path fill="#7701a8" d="M1593.5 352.8h22.23v4.3h-22.23zM1589.51 356.8h20.24v2.3h-20.24zM1521.73 358.8h22.23v2.3h-22.23zM1677.24 466.89h2.29v14.31h-2.29zM1675.24 490.91h2.29v2.3h-2.29zM1669.26 578.98h4.29v2.3h-4.29zM1477.87 580.98h32.2v6.3h-32.2zM1671.26 580.98h4.29v8.31h-4.29z"/>
<path fill="#7a02a8" d="M1615.43 352.8h22.23v4.3h-22.23zM1609.45 356.8h22.23v2.3h-22.23zM1543.66 358.8h20.24v2.3h-20.24zM1675.24 488.91h2.29v2.3h-2.29zM1673.25 552.96h2.29v2.3h-2.29zM1477.87 578.98h34.19v2.3h-34.19zM1477.87 586.98h34.19v2.3h-34.19zM1475.87 580.98h2.29v6.3h-2.29zM1509.77 580.98h2.29v6.3h-2.29zM1669.26 580.98h2.29v8.31h-2.29z"/>
<path fill="#7e03a8" d="M1637.36 352.8h20.24v4.3h-20.24zM1631.38 356.8h20.24v2.3h-20.24zM1563.6 358.8h26.22v2.3h-26.22zM1641.35 490.91h34.19v62.35h-34.19zM1641.35 552.96h32.2v2.3h-32.2zM1665.28 554.96h2.29v2.3h-2.29zM1475.87 578.98h2.29v2.3h-2.29zM1475.87 586.98h2.29v2.3h-2.29zM1671.26 588.99h4.29v2.3h-4.29z"/>
<path fill="#8104a7" d="M1657.3 352.8h16.25v4.3h-16.25zM1651.32 356.8h22.23v2.3h-22.23zM1589.51 358.8h26.22v2.3h-26.22zM1677.24 464.89h2.29v2.3h-2.29zM1641.35 554.96h24.22v2.3h-24.22zM1665.28 556.96h2.29v16.31h-2.29zM1669.26 588.99h2.29v2.3h-2.29zM1675.24 590.99h2.29v2.3h-2.29z"/>
<path fill="#8405a7" d="M1673.25 352.8h2.29v6.3h-2.29zM1615.43 358.8h16.25v2.3h-16.25zM1641.35 488.91h34.19v2.3h-34.19zM1665.28 572.97h2.29v2.3h-2.29zM1675.24 592.99h2.29v2.3h-2.29z"/>
<path fill="#920fa3" d="M1675.24 352.8h2.29v6.3h-2.29zM1675.24 482.9h2.29v2.3h-2.29zM1436 360.81h86.03v2.3h-86.03zM1639.36 556.96h2.29v2.3h-2.29zM1641.35 572.97h22.23v2.3h-22.23zM1667.27 578.98h2.29v8.31h-2.29zM1673.25 590.99h2.29v2.3h-2.29z"/>
<path fill="#bd3786" d="M1677.24 352.8h2.29v6.3h-2.29zM1679.23 362.81h9.97v24.32h-9.97zM1455.94 554.96h20.24v2.3h-20.24zM1595.5 556.96h2.29v2.3h-2.29zM1509.77 574.97h2.29v2.3h-2.29zM1621.41 574.97h16.25v2.3h-16.25z"/>
<path fill="#c7427c" d="M1679.23 352.8h9.97v6.3h-9.97zM1477.87 556.96h34.19v2.3h-34.19zM1436 574.97h38.18v2.3h-38.18zM1665.28 576.98h2.29v2.3h-2.29zM1511.76 590.99h2.29v2.3h-2.29z"/>
<path fill="#8707a6" d="M1631.38 358.8h14.26v2.3h-14.26zM1639.36 490.91h2.29v64.35h-2.29zM1667.27 576.98h2.29v2.3h-2.29zM1675.24 594.99h2.29v12.01h-2.29z"/>
<path fill="#8a09a5" d="M1645.34 358.8h18.24v2.3h-18.24zM1675.24 486.91h2.29v2.3h-2.29zM1639.36 554.96h2.29v2.3h-2.29zM1663.28 556.96h2.29v2.3h-2.29zM1473.88 578.98h2.29v10.31h-2.29z"/>
<path fill="#8d0ba5" d="M1663.28 358.8h12.26v2.3h-12.26zM1675.24 484.9h2.29v2.3h-2.29zM1639.36 488.91h2.29v2.3h-2.29zM1641.35 556.96h22.23v2.3h-22.23zM1477.87 576.98h34.19v2.3h-34.19zM1477.87 588.99h34.19v2.3h-34.19zM1436 580.98h38.18v6.3h-38.18zM1511.76 580.98h2.29v6.3h-2.29zM1471.89 586.98h2.29v2.3h-2.29z"/>
<path fill="#9c179e" d="M1675.24 358.8h2.29v2.3h-2.29zM1561.6 360.81h54.13v2.3h-54.13zM1436 362.81h34.19v2.3h-34.19zM1436 382.82h86.03v2.3h-86.03zM1436 384.83h94v2.3h-94zM1436 386.83h99.99v2.3h-99.99zM1521.73 388.83h22.23v2.3h-22.23zM1529.7 390.83h18.24v2.3h-18.24zM1535.69 392.83h18.24v2.3h-18.24zM1539.67 394.83h18.24v2.3h-18.24zM1539.67 478.9h18.24v2.3h-18.24zM1541.67 396.83h18.24v82.36h-18.24zM1436 480.9h80.05v2.3h-80.05zM1641.35 484.9h34.19v2.3h-34.19zM1473.88 576.98h2.29v2.3h-2.29zM1511.76 576.98h2.29v2.3h-2.29zM1436 588.99h38.18v2.3h-38.18zM1669.26 592.99h4.29v14.01h-4.29z"/>
<path fill="#ba3388" d="M1677.24 358.8h2.29v28.32h-2.29zM1677.24 386.83h11.96v6.3h-11.96zM1679.23 392.83h9.97v4.3h-9.97zM1439.99 554.96h16.25v2.3h-16.25zM1475.87 554.96h38.18v2.3h-38.18zM1597.49 574.97h2.29v2.3h-2.29z"/>
<path fill="#c5407e" d="M1679.23 358.8h9.97v2.3h-9.97zM1511.76 556.96h2.29v2.3h-2.29zM1473.88 574.97h2.29v2.3h-2.29zM1513.75 574.97h82.04v2.3h-82.04z"/>
<path fill="#9613a1" d="M1521.73 360.81h20.24v2.3h-20.24zM1436 396.83h82.04v2.3h-82.04zM1436 398.84h84.04v80.36h-84.04zM1641.35 486.91h34.19v2.3h-34.19zM1639.36 558.96h2.29v14.31h-2.29zM1665.28 574.97h2.29v2.3h-2.29zM1667.27 586.98h2.29v2.3h-2.29zM1669.26 590.99h4.29v2.3h-4.29z"/>
<path fill="#99159f" d="M1541.67 360.81h20.24v2.3h-20.24zM1436 388.83h86.03v2.3h-86.03zM1436 390.83h94v2.3h-94zM1436 392.83h99.99v2.3h-99.99zM1436 394.83h103.97v2.3h-103.97zM1436 478.9h103.97v2.3h-103.97zM1517.74 396.83h24.22v2.3h-24.22zM1519.74 398.84h22.23v80.36h-22.23zM1679.23 462.89h9.97v2.3h-9.97zM1639.36 486.91h2.29v2.3h-2.29zM1639.36 572.97h2.29v2.3h-2.29zM1473.88 588.99h2.29v2.3h-2.29zM1667.27 588.99h2.29v2.3h-2.29zM1673.25 592.99h2.29v14.01h-2.29z"/>
<path fill="#9e199d" d="M1615.43 360.81h10.27v2.3h-10.27zM1469.89 362.81h70.08v2.3h-70.08zM1436 364.81h97.99v12.31h-97.99zM1436 376.82h99.99v4.3h-99.99zM1436 380.82h101.98v2.3h-101.98zM1521.73 382.82h22.23v2.3h-22.23zM1529.7 384.83h18.24v2.3h-18.24zM1535.69 386.83h18.24v2.3h-18.24zM1543.66 388.83h18.24v2.3h-18.24zM1547.65 390.83h20.24v2.3h-20.24zM1553.63 392.83h24.22v2.3h-24.22zM1557.62 394.83h26.22v2.3h-26.22zM1559.61 396.83h26.22v66.35h-26.22zM1559.61 462.89h24.22v6.3h-24.22zM1677.24 462.89h2.29v2.3h-2.29zM1559.61 468.89h22.23v10.31h-22.23zM1557.62 478.9h20.24v2.3h-20.24zM1515.75 480.9h30.21v2.3h-30.21zM1639.36 484.9h2.29v2.3h-2.29zM1436 576.98h38.18v2.3h-38.18zM1511.76 588.99h2.29v2.3h-2.29z"/>
<path fill="#a11b9b" d="M1625.4 360.81h8.27v2.3h-8.27zM1539.67 362.81h18.24v2.3h-18.24zM1533.69 364.81h20.24v12.31h-20.24zM1535.69 376.82h18.24v4.3h-18.24zM1537.68 380.82h20.24v2.3h-20.24zM1543.66 382.82h18.24v2.3h-18.24zM1547.65 384.83h24.22v2.3h-24.22zM1553.63 386.83h38.18v2.3h-38.18zM1561.6 388.83h40.17v2.3h-40.17zM1567.58 390.83h40.17v2.3h-40.17zM1577.55 392.83h32.2v2.3h-32.2zM1583.53 394.83h28.21v2.3h-28.21zM1585.53 396.83h26.22v64.35h-26.22zM1585.53 460.89h24.22v2.3h-24.22zM1583.53 462.89h24.22v2.3h-24.22zM1583.53 464.89h22.23v2.3h-22.23zM1583.53 466.89h20.24v2.3h-20.24zM1581.54 468.89h20.24v4.3h-20.24zM1581.54 472.89h18.24v6.3h-18.24zM1577.55 478.9h20.24v2.3h-20.24zM1545.65 480.9h22.23v2.3h-22.23zM1641.35 482.9h34.19v2.3h-34.19zM1637.36 488.91h2.29v66.35h-2.29z"/>
<path fill="#a31e9a" d="M1633.38 360.81h8.27v2.3h-8.27zM1557.62 362.81h60.11v2.3h-60.11zM1553.63 364.81h62.1v16.31h-62.1zM1557.62 380.82h58.12v2.3h-58.12zM1561.6 382.82h56.12v2.3h-56.12zM1571.57 384.83h46.16v2.3h-46.16zM1591.51 386.83h28.21v2.3h-28.21zM1601.48 388.83h18.24v2.3h-18.24zM1607.46 390.83h12.26v2.3h-12.26zM1609.45 392.83h12.26v2.3h-12.26zM1611.45 394.83h10.27v64.35h-10.27zM1679.23 450.88h9.97v12.31h-9.97zM1611.45 458.88h8.27v2.3h-8.27zM1609.45 460.89h10.27v2.3h-10.27zM1607.46 462.89h10.27v2.3h-10.27zM1605.46 464.89h12.26v2.3h-12.26zM1603.47 466.89h12.26v2.3h-12.26zM1601.48 468.89h14.26v4.3h-14.26zM1599.48 472.89h14.26v6.3h-14.26zM1597.49 478.9h14.26v2.3h-14.26zM1567.58 480.9h26.22v2.3h-26.22zM1597.49 480.9h12.26v2.3h-12.26zM1675.24 480.9h2.29v2.3h-2.29zM1639.36 482.9h2.29v2.3h-2.29zM1637.36 554.96h2.29v2.3h-2.29zM1663.28 574.97h2.29v2.3h-2.29z"/>
<path fill="#a62098" d="M1641.35 360.81h8.27v2.3h-8.27zM1617.43 362.81h10.27v2.3h-10.27zM1615.43 364.81h10.27v18.31h-10.27zM1617.43 382.82h8.27v4.3h-8.27zM1617.43 462.89h8.27v2.3h-8.27zM1619.42 386.83h6.28v2.3h-6.28zM1619.42 458.88h6.28v4.3h-6.28zM1619.42 388.83h8.27v4.3h-8.27zM1621.41 392.83h6.28v66.35h-6.28zM1679.23 442.87h9.97v8.31h-9.97zM1677.24 452.88h2.29v10.31h-2.29zM1617.43 464.89h6.28v2.3h-6.28zM1615.43 466.89h8.27v2.3h-8.27zM1615.43 468.89h6.28v4.3h-6.28zM1613.44 472.89h8.27v2.3h-8.27zM1613.44 474.9h6.28v4.3h-6.28zM1611.45 478.9h8.27v2.3h-8.27zM1593.5 480.9h4.29v2.3h-4.29zM1609.45 480.9h10.27v2.3h-10.27zM1599.48 482.9h12.26v2.3h-12.26zM1637.36 484.9h2.29v4.3h-2.29zM1641.35 574.97h22.23v2.3h-22.23zM1667.27 590.99h2.29v2.3h-2.29z"/>
<path fill="#aa2395" d="M1649.33 360.81h18.24v2.3h-18.24zM1627.4 362.81h6.28v2.3h-6.28zM1627.4 388.83h6.28v70.36h-6.28zM1625.4 364.81h6.28v24.32h-6.28zM1625.4 458.88h6.28v4.3h-6.28zM1679.23 434.86h9.97v6.3h-9.97zM1677.24 440.87h11.96v2.3h-11.96zM1677.24 442.87h2.29v10.31h-2.29zM1625.4 462.89h4.29v2.3h-4.29zM1623.41 464.89h6.28v4.3h-6.28zM1675.24 464.89h2.29v16.31h-2.29zM1621.41 468.89h6.28v4.3h-6.28zM1621.41 472.89h4.29v2.3h-4.29zM1619.42 474.9h6.28v8.31h-6.28zM1436 482.9h12.26v2.3h-12.26zM1597.49 482.9h2.29v2.3h-2.29zM1611.45 482.9h28.21v2.3h-28.21zM1599.48 484.9h38.18v70.36h-38.18zM1601.48 554.96h36.19v2.3h-36.19zM1637.36 556.96h2.29v2.3h-2.29z"/>
<path fill="#ac2694" d="M1667.27 360.81h8.27v2.3h-8.27zM1633.38 362.81h6.28v2.3h-6.28zM1633.38 390.83h6.28v66.35h-6.28zM1631.38 364.81h6.28v24.32h-6.28zM1631.38 458.88h6.28v4.3h-6.28zM1633.38 388.83h4.29v2.3h-4.29zM1633.38 456.88h4.29v2.3h-4.29zM1679.23 428.86h9.97v4.3h-9.97zM1677.24 432.86h11.96v2.3h-11.96zM1677.24 434.86h2.29v6.3h-2.29zM1629.39 462.89h6.28v4.3h-6.28zM1629.39 466.89h4.29v2.3h-4.29zM1627.4 468.89h6.28v2.3h-6.28zM1627.4 470.89h4.29v2.3h-4.29zM1625.4 472.89h6.28v10.31h-6.28zM1447.96 482.9h16.25v2.3h-16.25zM1436 484.9h2.29v2.3h-2.29zM1597.49 484.9h2.29v70.36h-2.29zM1599.48 554.96h2.29v2.3h-2.29zM1637.36 558.96h2.29v16.31h-2.29zM1639.36 574.97h2.29v2.3h-2.29zM1667.27 592.99h2.29v14.01h-2.29z"/>
<path fill="#ae2892" d="M1675.24 360.81h2.29v2.3h-2.29zM1639.36 362.81h6.28v2.3h-6.28zM1639.36 390.83h6.28v66.35h-6.28zM1637.36 364.81h8.27v26.32h-8.27zM1679.23 422.86h9.97v2.3h-9.97zM1677.24 424.86h11.96v4.3h-11.96zM1677.24 428.86h2.29v4.3h-2.29zM1637.36 456.88h6.28v4.3h-6.28zM1637.36 460.89h4.29v2.3h-4.29zM1635.37 462.89h6.28v2.3h-6.28zM1635.37 464.89h4.29v2.3h-4.29zM1633.38 466.89h6.28v2.3h-6.28zM1633.38 468.89h4.29v2.3h-4.29zM1631.38 470.89h6.28v2.3h-6.28zM1631.38 472.89h4.29v8.31h-4.29zM1631.38 480.9h14.26v2.3h-14.26zM1463.91 482.9h133.88v2.3h-133.88zM1437.99 484.9h14.26v2.3h-14.26zM1436 486.91h14.26v26.32h-14.26zM1436 512.93h12.26v6.3h-12.26zM1436 518.93h10.27v4.3h-10.27zM1436 522.93h8.27v4.3h-8.27zM1436 526.94h6.28v2.3h-6.28zM1436 528.94h4.29v2.3h-4.29zM1436 530.94h2.29v2.3h-2.29zM1597.49 554.96h2.29v2.3h-2.29zM1599.48 556.96h38.18v2.3h-38.18z"/>
<path fill="#bf3984" d="M1679.23 360.81h9.97v2.3h-9.97zM1515.75 556.96h80.05v2.3h-80.05zM1595.5 558.96h2.29v16.31h-2.29zM1475.87 574.97h34.19v2.3h-34.19zM1511.76 574.97h2.29v2.3h-2.29zM1475.87 590.99h36.19v2.3h-36.19z"/>
<path fill="#b12a90" d="M1645.34 362.81h10.27v2.3h-10.27zM1645.34 364.81h6.28v92.37h-6.28zM1679.23 416.85h9.97v2.3h-9.97zM1677.24 418.85h11.96v4.3h-11.96zM1677.24 422.86h2.29v2.3h-2.29zM1675.24 432.86h2.29v32.33h-2.29zM1643.34 456.88h8.27v2.3h-8.27zM1643.34 458.88h6.28v2.3h-6.28zM1641.35 460.89h8.27v2.3h-8.27zM1641.35 462.89h6.28v2.3h-6.28zM1639.36 464.89h6.28v4.3h-6.28zM1637.36 468.89h6.28v4.3h-6.28zM1635.37 472.89h6.28v8.31h-6.28zM1645.34 480.9h8.27v2.3h-8.27zM1673.25 480.9h2.29v2.3h-2.29zM1451.95 484.9h145.84v2.3h-145.84zM1449.96 486.91h12.26v26.32h-12.26zM1595.5 486.91h2.29v44.33h-2.29zM1447.96 512.93h12.26v4.3h-12.26zM1447.96 516.93h10.27v2.3h-10.27zM1445.97 518.93h12.26v2.3h-12.26zM1445.97 520.93h10.27v2.3h-10.27zM1443.97 522.93h12.26v2.3h-12.26zM1443.97 524.94h10.27v2.3h-10.27zM1441.98 526.94h12.26v2.3h-12.26zM1439.99 528.94h12.26v2.3h-12.26zM1437.99 530.94h14.26v2.3h-14.26zM1436 532.94h14.26v4.3h-14.26zM1436 536.94h12.26v6.3h-12.26zM1436 542.95h10.27v4.3h-10.27zM1436 546.95h8.27v6.3h-8.27zM1436 552.96h4.29v2.3h-4.29zM1599.48 558.96h38.18v16.31h-38.18z"/>
<path fill="#b52f8c" d="M1675.24 362.81h2.29v40.33h-2.29zM1675.24 402.84h4.29v2.3h-4.29zM1677.24 404.84h11.96v6.3h-11.96zM1659.29 460.89h16.25v2.3h-16.25zM1655.31 462.89h20.24v2.3h-20.24zM1653.31 464.89h22.23v2.3h-22.23zM1651.32 466.89h24.22v2.3h-24.22zM1649.33 468.89h14.26v2.3h-14.26zM1673.25 468.89h2.29v6.3h-2.29zM1649.33 470.89h8.27v2.3h-8.27zM1647.33 472.89h8.27v2.3h-8.27zM1647.33 478.9h8.27v2.3h-8.27zM1647.33 474.9h6.28v2.3h-6.28zM1645.34 476.9h8.27v2.3h-8.27zM1463.91 532.94h129.89v2.3h-129.89zM1461.92 534.94h133.88v2.3h-133.88zM1459.92 536.94h135.87v2.3h-135.87zM1457.93 538.95h137.87v4.3h-137.87zM1455.94 542.95h139.86v8.31h-139.86zM1453.94 550.96h141.85v2.3h-141.85zM1451.95 552.96h143.85v2.3h-143.85zM1595.5 554.96h2.29v2.3h-2.29zM1597.49 572.97h2.29v2.3h-2.29z"/>
<path fill="#b7318a" d="M1677.24 392.83h2.29v4.3h-2.29zM1677.24 396.83h11.96v6.3h-11.96zM1679.23 402.84h9.97v2.3h-9.97zM1663.28 468.89h10.27v2.3h-10.27zM1657.3 470.89h16.25v2.3h-16.25zM1655.31 472.89h18.24v2.3h-18.24zM1653.31 474.9h22.23v4.3h-22.23zM1655.31 478.9h20.24v2.3h-20.24zM1436 554.96h4.29v2.3h-4.29zM1513.75 554.96h82.04v2.3h-82.04zM1599.48 574.97h22.23v2.3h-22.23zM1637.36 574.97h2.29v2.3h-2.29z"/>
<path fill="#5901a5" d="M1683.22 480.9h4.29v2.3h-4.29zM1677.24 532.94h2.29v4.3h-2.29zM1675.24 576.98h2.29v2.3h-2.29z"/>
<path fill="#5601a4" d="M1687.21 480.9h1.99v2.3h-1.99zM1677.24 536.94h2.29v4.3h-2.29z"/>
<path fill="#5302a3" d="M1679.23 482.9h2.29v2.3h-2.29zM1677.24 540.95h2.29v2.3h-2.29zM1667.27 558.96h2.29v16.31h-2.29z"/>
<path fill="#48039f" d="M1681.23 482.9h2.29v2.3h-2.29zM1679.23 536.94h2.29v2.3h-2.29zM1677.24 548.95h2.29v4.3h-2.29zM1671.26 556.96h2.29v2.3h-2.29z"/>
<path fill="#41049d" d="M1683.22 482.9h2.29v2.3h-2.29zM1681.23 486.91h2.29v50.34h-2.29zM1679.23 540.95h2.29v2.3h-2.29zM1677.24 554.96h2.29v2.3h-2.29zM1673.25 556.96h2.29v2.3h-2.29zM1673.25 574.97h2.29v2.3h-2.29zM1669.26 558.96h2.29v2.3h-2.29zM1669.26 572.97h2.29v2.3h-2.29z"/>
<path fill="#3a049a" d="M1685.21 482.9h2.29v2.3h-2.29zM1681.23 538.95h2.29v2.3h-2.29zM1679.23 544.95h2.29v4.3h-2.29zM1675.24 556.96h2.29v2.3h-2.29zM1671.26 558.96h2.29v16.31h-2.29z"/>
<path fill="#330597" d="M1687.21 482.9h1.99v2.3h-1.99zM1683.22 534.94h2.29v4.3h-2.29zM1681.23 542.95h2.29v2.3h-2.29zM1679.23 550.96h2.29v4.3h-2.29zM1673.25 558.96h2.29v16.31h-2.29zM1677.24 576.98h2.29v2.3h-2.29z"/>
<path fill="#5002a2" d="M1679.23 484.9h2.29v46.34h-2.29zM1677.24 542.95h2.29v4.3h-2.29z"/>
<path fill="#44039e" d="M1681.23 484.9h2.29v2.3h-2.29zM1679.23 538.95h2.29v2.3h-2.29zM1677.24 552.96h2.29v2.3h-2.29zM1671.26 574.97h2.29v2.3h-2.29z"/>
<path fill="#370499" d="M1683.22 484.9h2.29v50.34h-2.29zM1681.23 540.95h2.29v2.3h-2.29zM1679.23 548.95h2.29v2.3h-2.29zM1675.24 574.97h2.29v2.3h-2.29zM1677.24 578.98h2.29v12.31h-2.29z"/>
<path fill="#2e0595" d="M1685.21 484.9h2.29v2.3h-2.29zM1683.22 538.95h2.29v2.3h-2.29zM1681.23 544.95h2.29v2.3h-2.29zM1679.23 554.96h2.29v2.3h-2.29z"/>
<path fill="#260591" d="M1687.21 484.9h1.99v48.34h-1.99zM1685.21 534.94h2.29v4.3h-2.29zM1683.22 542.95h2.29v2.3h-2.29zM1681.23 550.96h2.29v4.3h-2.29zM1677.24 556.96h2.29v2.3h-2.29zM1677.24 574.97h2.29v2.3h-2.29zM1675.24 560.96h2.29v12.31h-2.29zM1679.23 590.99h2.29v16.01h-2.29z"/>
<path fill="#2a0593" d="M1685.21 486.91h2.29v48.34h-2.29zM1683.22 540.95h2.29v2.3h-2.29zM1681.23 546.95h2.29v4.3h-2.29zM1675.24 558.96h2.29v2.3h-2.29zM1675.24 572.97h2.29v2.3h-2.29z"/>
<path fill="#4c02a1" d="M1679.23 530.94h2.29v6.3h-2.29zM1677.24 546.95h2.29v2.3h-2.29zM1669.26 556.96h2.29v2.3h-2.29zM1669.26 574.97h2.29v2.3h-2.29z"/>
<path fill="#220690" d="M1687.21 532.94h1.99v4.3h-1.99zM1685.21 538.95h2.29v2.3h-2.29zM1683.22 544.95h2.29v2.3h-2.29zM1681.23 554.96h2.29v2.3h-2.29zM1679.23 556.96h2.29v2.3h-2.29zM1677.24 558.96h2.29v16.31h-2.29zM1679.23 576.98h9.97v14.31h-9.97zM1681.23 590.99h7.97v16.01h-7.97z"/>
<path fill="#3e049c" d="M1681.23 536.94h2.29v2.3h-2.29zM1679.23 542.95h2.29v2.3h-2.29zM1669.26 560.96h2.29v12.31h-2.29zM1677.24 590.99h2.29v16.01h-2.29z"/>
<path fill="#1d068e" d="M1687.21 536.94h1.99v2.3h-1.99zM1685.21 540.95h2.29v2.3h-2.29zM1683.22 546.95h2.29v2.3h-2.29zM1681.23 556.96h2.29v2.3h-2.29zM1679.23 558.96h2.29v18.31h-2.29z"/>
<path fill="#19068c" d="M1687.21 538.95h1.99v2.3h-1.99zM1685.21 542.95h2.29v2.3h-2.29zM1683.22 548.95h2.29v4.3h-2.29zM1683.22 556.96h2.29v2.3h-2.29zM1681.23 558.96h7.97v18.31h-7.97z"/>
<path fill="#130789" d="M1687.21 540.95h1.99v2.3h-1.99zM1685.21 544.95h2.29v2.3h-2.29zM1683.22 552.96h2.29v4.3h-2.29zM1685.21 556.96h3.99v2.3h-3.99z"/>
<path fill="#0d0887" d="M1687.21 542.95h1.99v4.3h-1.99zM1685.21 546.95h2.29v4.3h-2.29zM1687.21 546.95h1.99v2.3h-1.99zM1687.21 548.95h1.99v2.3h-1.99zM1687.21 554.96h1.99v2.3h-1.99zM1685.21 550.96h2.29v6.3h-2.29zM1687.21 550.96h1.99v4.3h-1.99z"/>
<path fill="#cd4a76" d="M1436 556.96h40.17v2.3h-40.17zM1475.87 558.96h2.29v14.31h-2.29zM1515.75 576.98h2.29v2.3h-2.29zM1595.5 576.98h2.29v2.3h-2.29zM1543.66 590.99h76.06v2.3h-76.06zM1436 594.99h76.06v12.01h-76.06z"/>
<path fill="#c9447a" d="M1475.87 556.96h2.29v2.3h-2.29zM1511.76 558.96h2.29v14.31h-2.29zM1509.77 572.97h4.29v2.3h-4.29zM1513.75 588.99h2.29v2.3h-2.29z"/>
<path fill="#c13b82" d="M1513.75 556.96h2.29v2.3h-2.29zM1515.75 558.96h80.05v16.31h-80.05zM1473.88 590.99h2.29v2.3h-2.29z"/>
<path fill="#d35171" d="M1436 558.96h38.18v14.31h-38.18zM1436 572.97h36.19v2.3h-36.19zM1665.28 578.98h2.29v2.3h-2.29zM1665.28 588.99h2.29v18.01h-2.29z"/>
<path fill="#d14e72" d="M1473.88 558.96h2.29v14.31h-2.29zM1471.89 572.97h4.29v2.3h-4.29zM1515.75 578.98h103.97v10.31h-103.97zM1541.67 588.99h78.05v2.3h-78.05zM1541.67 590.99h2.29v16.01h-2.29zM1619.42 590.99h2.29v2.3h-2.29zM1511.76 592.99h2.29v14.01h-2.29z"/>
<path fill="#cc4778" d="M1477.87 558.96h34.19v14.31h-34.19zM1475.87 572.97h34.19v2.3h-34.19zM1597.49 576.98h22.23v2.3h-22.23zM1436 592.99h76.06v2.3h-76.06zM1543.66 592.99h76.06v14.01h-76.06z"/>
<path fill="#c33d80" d="M1513.75 558.96h2.29v16.31h-2.29zM1513.75 576.98h2.29v12.31h-2.29zM1595.5 574.97h2.29v2.3h-2.29zM1436 590.99h38.18v2.3h-38.18z"/>
<path fill="#8f0da4" d="M1641.35 558.96h24.22v14.31h-24.22zM1663.28 572.97h2.29v2.3h-2.29zM1475.87 576.98h2.29v2.3h-2.29zM1475.87 588.99h2.29v2.3h-2.29zM1436 578.98h38.18v2.3h-38.18zM1511.76 578.98h2.29v2.3h-2.29zM1511.76 586.98h2.29v2.3h-2.29zM1436 586.98h36.19v2.3h-36.19z"/>
<path fill="#cf4c74" d="M1517.74 576.98h78.05v2.3h-78.05zM1619.42 576.98h2.29v2.3h-2.29zM1619.42 592.99h2.29v14.01h-2.29z"/>
<path fill="#d8576b" d="M1621.41 576.98h2.29v2.3h-2.29zM1639.36 576.98h2.29v2.3h-2.29z"/>
<path fill="#dc5d67" d="M1623.41 576.98h14.26v2.3h-14.26zM1539.67 590.99h2.29v2.3h-2.29zM1621.41 590.99h2.29v2.3h-2.29z"/>
<path fill="#da5b69" d="M1637.36 576.98h2.29v2.3h-2.29zM1513.75 590.99h2.29v2.3h-2.29zM1621.41 592.99h2.29v14.01h-2.29z"/>
<path fill="#d6556d" d="M1641.35 576.98h24.22v2.3h-24.22z"/>
<path fill="#d5536f" d="M1619.42 578.98h2.29v12.31h-2.29zM1665.28 580.98h2.29v8.31h-2.29zM1515.75 588.99h26.22v2.3h-26.22z"/>
<path fill="#df6263" d="M1621.41 578.98h2.29v2.3h-2.29zM1621.41 588.99h2.29v2.3h-2.29zM1623.41 590.99h40.17v2.3h-40.17zM1513.75 592.99h2.29v14.01h-2.29zM1539.67 592.99h2.29v14.01h-2.29z"/>
<path fill="#e26660" d="M1623.41 578.98h2.29v2.3h-2.29zM1639.36 578.98h26.22v2.3h-26.22zM1663.28 580.98h2.29v8.31h-2.29zM1623.41 588.99h40.17v2.3h-40.17z"/>
<path fill="#e4695e" d="M1625.4 578.98h14.26v2.3h-14.26zM1623.41 580.98h40.17v8.31h-40.17zM1515.75 592.99h24.22v14.01h-24.22z"/>
<path fill="#e16462" d="M1621.41 580.98h2.29v8.31h-2.29zM1663.28 588.99h2.29v2.3h-2.29zM1515.75 590.99h24.22v2.3h-24.22z"/>
<path fill="#de5f65" d="M1663.28 590.99h2.29v2.3h-2.29zM1623.41 592.99h42.17v14.01h-42.17z"/>
</g>
<rect x="1704.5" y="352.8" width="12.6" height="254.2" fill="url(#plasma)"/>
<g class="c">
<text x="1729.4" y="359.3">2.0</text>
<text x="1729.4" y="401.67">1.5</text>
<text x="1729.4" y="444.03">1.0</text>
<text x="1729.4" y="486.4">0.5</text>
<text x="1729.4" y="528.77">0.0</text>
<text x="1729.4" y="571.13">−0.5</text>
<text x="1729.4" y="613.5">−1.0</text>
</g>
<path d="M1717.1 352.8h6.8M1717.1 395.17h6.8M1717.1 437.53h6.8M1717.1 479.9h6.8M1717.1 522.27h6.8M1717.1 564.63h6.8M1717.1 607h6.8" stroke="#111" stroke-width="1.5" fill="none"/>
<g shape-rendering="crispEdges">
<rect x="1436" y="683.4" width="253.2" height="253.9" fill="#9613a1"/>
<path fill="#9c179e" d="M1436 683.4h163.78v24.29h-163.78zM1436 829.34h163.78v10.3h-163.78zM1436 707.39h165.78v2.3h-165.78zM1436 825.34h165.78v4.3h-165.78zM1589.51 709.39h14.26v2.3h-14.26zM1595.5 711.39h10.27v2.3h-10.27zM1595.5 817.35h10.27v2.3h-10.27zM1597.49 713.39h10.27v2.3h-10.27zM1601.48 715.39h6.28v2.3h-6.28zM1601.48 811.35h6.28v2.3h-6.28zM1601.48 717.39h8.27v2.3h-8.27zM1601.48 807.35h8.27v4.3h-8.27zM1603.47 719.39h6.28v88.27h-6.28zM1599.48 813.35h8.27v2.3h-8.27zM1597.49 815.35h8.27v2.3h-8.27zM1593.5 819.35h12.26v2.3h-12.26zM1591.51 821.35h12.26v2.3h-12.26zM1436 823.34h167.77v2.3h-167.77zM1436 839.34h161.79v2.3h-161.79zM1615.43 843.34h2.29v38.29h-2.29zM1631.38 843.34h57.82v2.3h-57.82z"/>
<path fill="#9e199d" d="M1599.48 683.4h10.27v24.29h-10.27zM1599.48 829.34h10.27v10.3h-10.27zM1601.48 707.39h8.27v2.3h-8.27zM1601.48 827.34h8.27v2.3h-8.27zM1603.47 709.39h8.27v2.3h-8.27zM1603.47 821.35h8.27v4.3h-8.27zM1605.46 711.39h8.27v2.3h-8.27zM1605.46 815.35h8.27v4.3h-8.27zM1607.46 713.39h6.28v4.3h-6.28zM1607.46 811.35h6.28v4.3h-6.28zM1609.45 717.39h6.28v94.26h-6.28zM1605.46 819.35h6.28v2.3h-6.28zM1601.48 825.34h10.27v2.3h-10.27zM1597.49 839.34h10.27v2.3h-10.27zM1553.63 841.34h44.16v2.3h-44.16z"/>
<path fill="#a11b9b" d="M1609.45 683.4h8.27v26.29h-8.27zM1609.45 827.34h8.27v12.3h-8.27zM1611.45 709.39h8.27v2.3h-8.27zM1611.45 819.35h8.27v8.3h-8.27zM1613.44 711.39h6.28v4.3h-6.28zM1613.44 815.35h6.28v4.3h-6.28zM1613.44 715.39h8.27v2.3h-8.27zM1613.44 811.35h8.27v4.3h-8.27zM1615.43 717.39h6.28v94.26h-6.28zM1607.46 839.34h10.27v2.3h-10.27zM1436 841.34h117.93v2.3h-117.93zM1597.49 841.34h14.26v2.3h-14.26zM1615.43 841.34h12.26v2.3h-12.26zM1613.44 883.32h2.29v16.29h-2.29z"/>
<path fill="#a31e9a" d="M1617.43 683.4h10.27v26.29h-10.27zM1617.43 827.34h10.27v12.3h-10.27zM1619.42 709.39h8.27v2.3h-8.27zM1619.42 821.35h8.27v6.3h-8.27zM1619.42 711.39h10.27v4.3h-10.27zM1619.42 815.35h10.27v6.3h-10.27zM1621.41 715.39h8.27v100.26h-8.27zM1617.43 839.34h12.26v2.3h-12.26zM1611.45 841.34h4.29v2.3h-4.29zM1627.4 841.34h61.8v2.3h-61.8zM1613.44 877.32h2.29v6.3h-2.29z"/>
<path fill="#a62098" d="M1627.4 683.4h61.8v28.29h-61.8zM1627.4 821.35h61.8v18.29h-61.8zM1629.39 711.39h59.81v110.26h-59.81zM1629.39 839.34h59.81v2.3h-59.81zM1613.44 843.34h2.29v34.29h-2.29zM1613.44 899.31h2.29v2.3h-2.29zM1611.45 879.32h2.29v4.3h-2.29zM1611.45 897.32h2.29v2.3h-2.29zM1603.47 883.32h10.27v2.3h-10.27zM1601.48 885.32h12.26v12.3h-12.26z"/>
<path fill="#99159f" d="M1436 709.39h153.81v2.3h-153.81zM1436 711.39h159.8v2.3h-159.8zM1436 817.35h159.8v2.3h-159.8zM1436 713.39h161.79v2.3h-161.79zM1436 815.35h161.79v2.3h-161.79zM1436 715.39h165.78v2.3h-165.78zM1436 809.35h165.78v4.3h-165.78zM1591.51 717.39h10.27v2.3h-10.27zM1591.51 807.35h10.27v2.3h-10.27zM1595.5 719.39h8.27v4.3h-8.27zM1595.5 801.35h8.27v4.3h-8.27zM1597.49 723.38h6.28v78.27h-6.28zM1593.5 805.35h10.27v2.3h-10.27zM1436 813.35h163.78v2.3h-163.78zM1436 819.35h157.8v2.3h-157.8zM1436 821.35h155.81v2.3h-155.81zM1617.43 843.34h14.26v2.3h-14.26zM1617.43 845.34h2.29v32.29h-2.29zM1615.43 881.32h2.29v2.3h-2.29zM1615.43 903.31h2.29v33.99h-2.29z"/>
<path fill="#ae2892" d="M1436 843.34h94v2.3h-94zM1547.65 845.34h24.22v2.3h-24.22zM1547.65 865.33h24.22v2.3h-24.22zM1549.64 847.34h26.22v14.29h-26.22zM1549.64 861.33h24.22v4.3h-24.22zM1543.66 867.33h26.22v2.3h-26.22zM1539.67 869.33h26.22v2.3h-26.22zM1535.69 871.33h28.21v2.3h-28.21zM1531.7 873.33h28.21v2.3h-28.21zM1525.72 875.32h30.21v2.3h-30.21zM1436 877.32h117.93v2.3h-117.93zM1436 879.32h113.94v2.3h-113.94zM1436 897.32h113.94v2.3h-113.94zM1436 881.32h111.95v2.3h-111.95zM1436 883.32h109.95v14.29h-109.95zM1569.58 899.31h30.21v2.3h-30.21z"/>
<path fill="#ac2694" d="M1529.7 843.34h36.19v2.3h-36.19zM1571.57 845.34h40.17v2.3h-40.17zM1575.56 847.34h36.19v14.29h-36.19zM1573.57 861.33h38.18v4.3h-38.18zM1571.57 865.33h36.19v2.3h-36.19zM1569.58 867.33h30.21v2.3h-30.21zM1565.59 869.33h28.21v2.3h-28.21zM1563.6 871.33h26.22v2.3h-26.22zM1559.61 873.33h26.22v2.3h-26.22zM1555.62 875.32h26.22v2.3h-26.22zM1553.63 877.32h24.22v2.3h-24.22zM1549.64 879.32h24.22v2.3h-24.22zM1549.64 897.32h24.22v2.3h-24.22zM1547.65 881.32h24.22v2.3h-24.22zM1545.65 883.32h26.22v2.3h-26.22zM1545.65 885.32h24.22v12.3h-24.22zM1599.48 899.31h14.26v2.3h-14.26z"/>
<path fill="#aa2395" d="M1565.59 843.34h48.15v2.3h-48.15zM1611.45 845.34h2.29v20.29h-2.29zM1607.46 865.33h6.28v2.3h-6.28zM1599.48 867.33h14.26v2.3h-14.26zM1593.5 869.33h20.24v2.3h-20.24zM1589.51 871.33h24.22v2.3h-24.22zM1585.53 873.33h28.21v2.3h-28.21zM1581.54 875.32h32.2v2.3h-32.2zM1577.55 877.32h36.19v2.3h-36.19zM1573.57 879.32h38.18v2.3h-38.18zM1573.57 897.32h38.18v2.3h-38.18zM1571.57 881.32h40.17v2.3h-40.17zM1571.57 883.32h32.2v2.3h-32.2zM1569.58 885.32h32.2v12.3h-32.2z"/>
<path fill="#b12a90" d="M1436 845.34h111.95v2.3h-111.95zM1436 865.33h111.95v2.3h-111.95zM1436 847.34h113.94v18.29h-113.94zM1436 867.33h107.96v2.3h-107.96zM1436 869.33h103.97v2.3h-103.97zM1436 871.33h99.99v2.3h-99.99zM1436 873.33h96v2.3h-96zM1436 875.32h90.02v2.3h-90.02zM1543.66 899.31h26.22v2.3h-26.22zM1613.44 901.31h2.29v2.3h-2.29z"/>
<path fill="#920fa3" d="M1619.42 881.32h69.78v2.3h-69.78zM1615.43 883.32h2.29v2.3h-2.29z"/>
<path fill="#8d0ba5" d="M1617.43 883.32h71.77v2.3h-71.77zM1617.43 901.31h60.11v2.3h-60.11zM1617.43 903.31h62.1v33.99h-62.1z"/>
<path fill="#8f0da4" d="M1615.43 885.32h2.29v16.29h-2.29z"/>
<path fill="#8a09a5" d="M1617.43 885.32h71.77v12.3h-71.77zM1617.43 897.32h64.1v2.3h-64.1zM1617.43 899.31h62.1v2.3h-62.1zM1677.24 901.31h2.29v2.3h-2.29z"/>
<path fill="#8707a6" d="M1681.23 897.32h7.97v2.3h-7.97zM1679.23 899.31h2.29v2.3h-2.29z"/>
<path fill="#b32c8e" d="M1436 899.31h107.96v2.3h-107.96z"/>
<path fill="#8104a7" d="M1681.23 899.31h7.97v2.3h-7.97z"/>
<path fill="#c33d80" d="M1436 901.31h76.06v2.3h-76.06zM1535.69 903.31h22.23v2.3h-22.23zM1539.67 905.31h20.24v31.99h-20.24z"/>
<path fill="#c13b82" d="M1511.76 901.31h28.21v2.3h-28.21zM1557.62 903.31h24.22v2.3h-24.22zM1559.61 905.31h26.22v31.99h-26.22z"/>
<path fill="#bf3984" d="M1539.67 901.31h22.23v2.3h-22.23zM1581.54 903.31h32.2v2.3h-32.2zM1585.53 905.31h28.21v31.99h-28.21z"/>
<path fill="#bd3786" d="M1561.6 901.31h26.22v2.3h-26.22z"/>
<path fill="#ba3388" d="M1587.52 901.31h26.22v2.3h-26.22z"/>
<path fill="#8405a7" d="M1679.23 901.31h2.29v35.99h-2.29z"/>
<path fill="#6e00a8" d="M1681.23 901.31h2.29v2.3h-2.29z"/>
<path fill="#6700a8" d="M1683.22 901.31h5.98v2.3h-5.98zM1681.23 903.31h2.29v33.99h-2.29z"/>
<path fill="#c7427c" d="M1436 903.31h74.07v2.3h-74.07zM1436 905.31h78.05v31.99h-78.05z"/>
<path fill="#c5407e" d="M1509.77 903.31h26.22v2.3h-26.22zM1513.75 905.31h26.22v31.99h-26.22z"/>
<path fill="#b52f8c" d="M1613.44 903.31h2.29v33.99h-2.29z"/>
<path fill="#5c01a6" d="M1683.22 903.31h5.98v33.99h-5.98z"/>
</g>
<rect x="1704.5" y="683.4" width="12.6" height="253.9" fill="url(#plasma)"/>
<g class="c">
<text x="1729.4" y="689.9">2.0</text>
<text x="1729.4" y="732.22">1.5</text>
<text x="1729.4" y="774.53">1.0</text>
<text x="1729.4" y="816.85">0.5</text>
<text x="1729.4" y="859.17">0.0</text>
<text x="1729.4" y="901.48">−0.5</text>
<text x="1729.4" y="943.8">−1.0</text>
</g>
<path d="M1717.1 683.4h6.8M1717.1 725.72h6.8M1717.1 768.03h6.8M1717.1 810.35h6.8M1717.1 852.67h6.8M1717.1 894.98h6.8M1717.1 937.3h6.8" stroke="#111" stroke-width="1.5" fill="none"/>
<text class="pl" transform="translate(4.6 27.9) scale(1.0 1)" text-anchor="start">A</text>
<text class="pl" transform="translate(882 27.7) scale(0.95 1)" text-anchor="start">B</text>
<text class="pl" transform="translate(3.4 346.5) scale(0.95 1)" text-anchor="start">C</text>
<text class="pl" transform="translate(438 346) scale(0.95 1)" text-anchor="start">D</text>
<text class="pl" transform="translate(882.2 346) scale(0.94 1)" text-anchor="start">E</text>
<text class="pl" transform="translate(2.6 668.4) scale(0.93 1)" text-anchor="start">F</text>
<text class="pl" transform="translate(439.2 668.5) scale(0.96 1)" text-anchor="start">G</text>
<text class="pl" transform="translate(882 668.9) scale(0.965 1)" text-anchor="start">H</text>
<text class="pl" transform="translate(1397.3 379.7) scale(1.0 1)" text-anchor="start">I</text>
<text class="pl" transform="translate(1399.3 705.8) scale(0.95 1)" text-anchor="start">J</text>
<text class="ax" transform="translate(394.6 327.9) scale(1.03 1)" text-anchor="middle">AGE</text>
<text class="ax" transform="translate(1374.4 336.3) scale(1.03 1)" text-anchor="middle">AGE</text>
<text class="ax" transform="translate(268.8 666.5) scale(1.03 1)" text-anchor="middle">BMI</text>
<text class="ax" transform="translate(710 666.5) scale(1.03 1)" text-anchor="middle">GLU</text>
<text class="ax" transform="translate(1152 666.5) scale(1.03 1)" text-anchor="middle">TG</text>
<text class="ax" transform="translate(268 997) scale(1.03 1)" text-anchor="middle">BMI</text>
<text class="ax" transform="translate(710 997) scale(1.03 1)" text-anchor="middle">GLU</text>
<text class="ax" transform="translate(1152 997) scale(1.03 1)" text-anchor="middle">TG</text>
<text class="ax" transform="translate(26.6 42.05) rotate(-90) scale(1.03 1)" text-anchor="end">men_sbp_riskscore</text>
<text class="ax" transform="translate(933.4 27.25) rotate(-90) scale(1.03 1)" text-anchor="end">women_sbp_riskscore</text>
<text class="ax" transform="translate(26.6 373.55) rotate(-90) scale(1.03 1)" text-anchor="end">men_sbp_riskscore</text>
<text class="ax" transform="translate(453.4 373.35) rotate(-90) scale(1.03 1)" text-anchor="end">men_sbp_riskscore</text>
<text class="ax" transform="translate(895.2 373.35) rotate(-90) scale(1.03 1)" text-anchor="end">men_sbp_riskscore</text>
<text class="ax" transform="translate(50.2 688.05) rotate(-90) scale(1.03 1)" text-anchor="end">women_sbp_riskscore</text>
<text class="ax" transform="translate(455.2 687.25) rotate(-90) scale(1.03 1)" text-anchor="end">women_sbp_riskscore</text>
<text class="ax" transform="translate(895.2 687.25) rotate(-90) scale(1.03 1)" text-anchor="end">women_sbp_riskscore</text>
</svg>
</body>
</html>
